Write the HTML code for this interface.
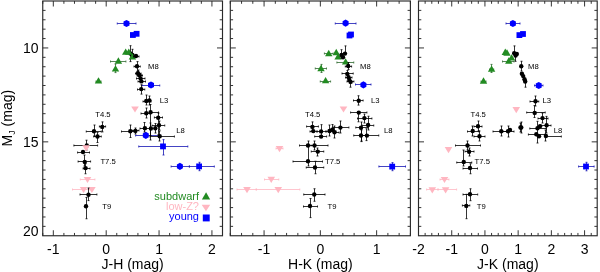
<!DOCTYPE html>
<html><head><meta charset="utf-8"><style>
html,body{margin:0;padding:0;background:#fff;}
svg{display:block;will-change:transform;}
text{font-family:"Liberation Sans",sans-serif;}
.tl{font-size:14px;}
.sub{font-size:9px;}
.sm{font-size:7.7px;fill:#000;}
.lg{font-size:11px;}
</style></head><body>
<svg width="600" height="272" viewBox="0 0 600 272">
<rect width="600" height="272" fill="#fff"/>
<rect x="42.75" y="1.00" width="179.75" height="234.75" fill="none" stroke="#2a2a2a" stroke-width="1.15"/>
<line x1="42.75" y1="235.75" x2="42.75" y2="232.95" stroke="#2a2a2a" stroke-width="0.95"/>
<line x1="42.75" y1="1.00" x2="42.75" y2="3.80" stroke="#2a2a2a" stroke-width="0.95"/>
<line x1="53.32" y1="235.75" x2="53.32" y2="230.25" stroke="#2a2a2a" stroke-width="0.95"/>
<line x1="53.32" y1="1.00" x2="53.32" y2="6.50" stroke="#2a2a2a" stroke-width="0.95"/>
<line x1="63.90" y1="235.75" x2="63.90" y2="232.95" stroke="#2a2a2a" stroke-width="0.95"/>
<line x1="63.90" y1="1.00" x2="63.90" y2="3.80" stroke="#2a2a2a" stroke-width="0.95"/>
<line x1="74.47" y1="235.75" x2="74.47" y2="232.95" stroke="#2a2a2a" stroke-width="0.95"/>
<line x1="74.47" y1="1.00" x2="74.47" y2="3.80" stroke="#2a2a2a" stroke-width="0.95"/>
<line x1="85.04" y1="235.75" x2="85.04" y2="232.95" stroke="#2a2a2a" stroke-width="0.95"/>
<line x1="85.04" y1="1.00" x2="85.04" y2="3.80" stroke="#2a2a2a" stroke-width="0.95"/>
<line x1="95.62" y1="235.75" x2="95.62" y2="232.95" stroke="#2a2a2a" stroke-width="0.95"/>
<line x1="95.62" y1="1.00" x2="95.62" y2="3.80" stroke="#2a2a2a" stroke-width="0.95"/>
<line x1="106.19" y1="235.75" x2="106.19" y2="230.25" stroke="#2a2a2a" stroke-width="0.95"/>
<line x1="106.19" y1="1.00" x2="106.19" y2="6.50" stroke="#2a2a2a" stroke-width="0.95"/>
<line x1="116.76" y1="235.75" x2="116.76" y2="232.95" stroke="#2a2a2a" stroke-width="0.95"/>
<line x1="116.76" y1="1.00" x2="116.76" y2="3.80" stroke="#2a2a2a" stroke-width="0.95"/>
<line x1="127.34" y1="235.75" x2="127.34" y2="232.95" stroke="#2a2a2a" stroke-width="0.95"/>
<line x1="127.34" y1="1.00" x2="127.34" y2="3.80" stroke="#2a2a2a" stroke-width="0.95"/>
<line x1="137.91" y1="235.75" x2="137.91" y2="232.95" stroke="#2a2a2a" stroke-width="0.95"/>
<line x1="137.91" y1="1.00" x2="137.91" y2="3.80" stroke="#2a2a2a" stroke-width="0.95"/>
<line x1="148.49" y1="235.75" x2="148.49" y2="232.95" stroke="#2a2a2a" stroke-width="0.95"/>
<line x1="148.49" y1="1.00" x2="148.49" y2="3.80" stroke="#2a2a2a" stroke-width="0.95"/>
<line x1="159.06" y1="235.75" x2="159.06" y2="230.25" stroke="#2a2a2a" stroke-width="0.95"/>
<line x1="159.06" y1="1.00" x2="159.06" y2="6.50" stroke="#2a2a2a" stroke-width="0.95"/>
<line x1="169.63" y1="235.75" x2="169.63" y2="232.95" stroke="#2a2a2a" stroke-width="0.95"/>
<line x1="169.63" y1="1.00" x2="169.63" y2="3.80" stroke="#2a2a2a" stroke-width="0.95"/>
<line x1="180.21" y1="235.75" x2="180.21" y2="232.95" stroke="#2a2a2a" stroke-width="0.95"/>
<line x1="180.21" y1="1.00" x2="180.21" y2="3.80" stroke="#2a2a2a" stroke-width="0.95"/>
<line x1="190.78" y1="235.75" x2="190.78" y2="232.95" stroke="#2a2a2a" stroke-width="0.95"/>
<line x1="190.78" y1="1.00" x2="190.78" y2="3.80" stroke="#2a2a2a" stroke-width="0.95"/>
<line x1="201.35" y1="235.75" x2="201.35" y2="232.95" stroke="#2a2a2a" stroke-width="0.95"/>
<line x1="201.35" y1="1.00" x2="201.35" y2="3.80" stroke="#2a2a2a" stroke-width="0.95"/>
<line x1="211.93" y1="235.75" x2="211.93" y2="230.25" stroke="#2a2a2a" stroke-width="0.95"/>
<line x1="211.93" y1="1.00" x2="211.93" y2="6.50" stroke="#2a2a2a" stroke-width="0.95"/>
<line x1="222.50" y1="235.75" x2="222.50" y2="232.95" stroke="#2a2a2a" stroke-width="0.95"/>
<line x1="222.50" y1="1.00" x2="222.50" y2="3.80" stroke="#2a2a2a" stroke-width="0.95"/>
<line x1="42.75" y1="10.39" x2="45.55" y2="10.39" stroke="#2a2a2a" stroke-width="0.95"/>
<line x1="222.50" y1="10.39" x2="219.70" y2="10.39" stroke="#2a2a2a" stroke-width="0.95"/>
<line x1="42.75" y1="19.78" x2="45.55" y2="19.78" stroke="#2a2a2a" stroke-width="0.95"/>
<line x1="222.50" y1="19.78" x2="219.70" y2="19.78" stroke="#2a2a2a" stroke-width="0.95"/>
<line x1="42.75" y1="29.17" x2="45.55" y2="29.17" stroke="#2a2a2a" stroke-width="0.95"/>
<line x1="222.50" y1="29.17" x2="219.70" y2="29.17" stroke="#2a2a2a" stroke-width="0.95"/>
<line x1="42.75" y1="38.56" x2="45.55" y2="38.56" stroke="#2a2a2a" stroke-width="0.95"/>
<line x1="222.50" y1="38.56" x2="219.70" y2="38.56" stroke="#2a2a2a" stroke-width="0.95"/>
<line x1="42.75" y1="47.95" x2="48.25" y2="47.95" stroke="#2a2a2a" stroke-width="0.95"/>
<line x1="222.50" y1="47.95" x2="217.00" y2="47.95" stroke="#2a2a2a" stroke-width="0.95"/>
<line x1="42.75" y1="57.34" x2="45.55" y2="57.34" stroke="#2a2a2a" stroke-width="0.95"/>
<line x1="222.50" y1="57.34" x2="219.70" y2="57.34" stroke="#2a2a2a" stroke-width="0.95"/>
<line x1="42.75" y1="66.73" x2="45.55" y2="66.73" stroke="#2a2a2a" stroke-width="0.95"/>
<line x1="222.50" y1="66.73" x2="219.70" y2="66.73" stroke="#2a2a2a" stroke-width="0.95"/>
<line x1="42.75" y1="76.12" x2="45.55" y2="76.12" stroke="#2a2a2a" stroke-width="0.95"/>
<line x1="222.50" y1="76.12" x2="219.70" y2="76.12" stroke="#2a2a2a" stroke-width="0.95"/>
<line x1="42.75" y1="85.51" x2="45.55" y2="85.51" stroke="#2a2a2a" stroke-width="0.95"/>
<line x1="222.50" y1="85.51" x2="219.70" y2="85.51" stroke="#2a2a2a" stroke-width="0.95"/>
<line x1="42.75" y1="94.90" x2="45.55" y2="94.90" stroke="#2a2a2a" stroke-width="0.95"/>
<line x1="222.50" y1="94.90" x2="219.70" y2="94.90" stroke="#2a2a2a" stroke-width="0.95"/>
<line x1="42.75" y1="104.29" x2="45.55" y2="104.29" stroke="#2a2a2a" stroke-width="0.95"/>
<line x1="222.50" y1="104.29" x2="219.70" y2="104.29" stroke="#2a2a2a" stroke-width="0.95"/>
<line x1="42.75" y1="113.68" x2="45.55" y2="113.68" stroke="#2a2a2a" stroke-width="0.95"/>
<line x1="222.50" y1="113.68" x2="219.70" y2="113.68" stroke="#2a2a2a" stroke-width="0.95"/>
<line x1="42.75" y1="123.07" x2="45.55" y2="123.07" stroke="#2a2a2a" stroke-width="0.95"/>
<line x1="222.50" y1="123.07" x2="219.70" y2="123.07" stroke="#2a2a2a" stroke-width="0.95"/>
<line x1="42.75" y1="132.46" x2="45.55" y2="132.46" stroke="#2a2a2a" stroke-width="0.95"/>
<line x1="222.50" y1="132.46" x2="219.70" y2="132.46" stroke="#2a2a2a" stroke-width="0.95"/>
<line x1="42.75" y1="141.85" x2="48.25" y2="141.85" stroke="#2a2a2a" stroke-width="0.95"/>
<line x1="222.50" y1="141.85" x2="217.00" y2="141.85" stroke="#2a2a2a" stroke-width="0.95"/>
<line x1="42.75" y1="151.24" x2="45.55" y2="151.24" stroke="#2a2a2a" stroke-width="0.95"/>
<line x1="222.50" y1="151.24" x2="219.70" y2="151.24" stroke="#2a2a2a" stroke-width="0.95"/>
<line x1="42.75" y1="160.63" x2="45.55" y2="160.63" stroke="#2a2a2a" stroke-width="0.95"/>
<line x1="222.50" y1="160.63" x2="219.70" y2="160.63" stroke="#2a2a2a" stroke-width="0.95"/>
<line x1="42.75" y1="170.02" x2="45.55" y2="170.02" stroke="#2a2a2a" stroke-width="0.95"/>
<line x1="222.50" y1="170.02" x2="219.70" y2="170.02" stroke="#2a2a2a" stroke-width="0.95"/>
<line x1="42.75" y1="179.41" x2="45.55" y2="179.41" stroke="#2a2a2a" stroke-width="0.95"/>
<line x1="222.50" y1="179.41" x2="219.70" y2="179.41" stroke="#2a2a2a" stroke-width="0.95"/>
<line x1="42.75" y1="188.80" x2="45.55" y2="188.80" stroke="#2a2a2a" stroke-width="0.95"/>
<line x1="222.50" y1="188.80" x2="219.70" y2="188.80" stroke="#2a2a2a" stroke-width="0.95"/>
<line x1="42.75" y1="198.19" x2="45.55" y2="198.19" stroke="#2a2a2a" stroke-width="0.95"/>
<line x1="222.50" y1="198.19" x2="219.70" y2="198.19" stroke="#2a2a2a" stroke-width="0.95"/>
<line x1="42.75" y1="207.58" x2="45.55" y2="207.58" stroke="#2a2a2a" stroke-width="0.95"/>
<line x1="222.50" y1="207.58" x2="219.70" y2="207.58" stroke="#2a2a2a" stroke-width="0.95"/>
<line x1="42.75" y1="216.97" x2="45.55" y2="216.97" stroke="#2a2a2a" stroke-width="0.95"/>
<line x1="222.50" y1="216.97" x2="219.70" y2="216.97" stroke="#2a2a2a" stroke-width="0.95"/>
<line x1="42.75" y1="226.36" x2="45.55" y2="226.36" stroke="#2a2a2a" stroke-width="0.95"/>
<line x1="222.50" y1="226.36" x2="219.70" y2="226.36" stroke="#2a2a2a" stroke-width="0.95"/>
<text x="53.32" y="253.6" class="tl" text-anchor="middle">-1</text>
<text x="106.19" y="253.6" class="tl" text-anchor="middle">0</text>
<text x="159.06" y="253.6" class="tl" text-anchor="middle">1</text>
<text x="211.93" y="253.6" class="tl" text-anchor="middle">2</text>
<text x="132.62" y="268.5" class="tl" text-anchor="middle">J-H (mag)</text>
<rect x="230.30" y="1.00" width="180.10" height="234.75" fill="none" stroke="#2a2a2a" stroke-width="1.15"/>
<line x1="230.30" y1="235.75" x2="230.30" y2="232.95" stroke="#2a2a2a" stroke-width="0.95"/>
<line x1="230.30" y1="1.00" x2="230.30" y2="3.80" stroke="#2a2a2a" stroke-width="0.95"/>
<line x1="241.56" y1="235.75" x2="241.56" y2="232.95" stroke="#2a2a2a" stroke-width="0.95"/>
<line x1="241.56" y1="1.00" x2="241.56" y2="3.80" stroke="#2a2a2a" stroke-width="0.95"/>
<line x1="252.81" y1="235.75" x2="252.81" y2="232.95" stroke="#2a2a2a" stroke-width="0.95"/>
<line x1="252.81" y1="1.00" x2="252.81" y2="3.80" stroke="#2a2a2a" stroke-width="0.95"/>
<line x1="264.07" y1="235.75" x2="264.07" y2="230.25" stroke="#2a2a2a" stroke-width="0.95"/>
<line x1="264.07" y1="1.00" x2="264.07" y2="6.50" stroke="#2a2a2a" stroke-width="0.95"/>
<line x1="275.32" y1="235.75" x2="275.32" y2="232.95" stroke="#2a2a2a" stroke-width="0.95"/>
<line x1="275.32" y1="1.00" x2="275.32" y2="3.80" stroke="#2a2a2a" stroke-width="0.95"/>
<line x1="286.58" y1="235.75" x2="286.58" y2="232.95" stroke="#2a2a2a" stroke-width="0.95"/>
<line x1="286.58" y1="1.00" x2="286.58" y2="3.80" stroke="#2a2a2a" stroke-width="0.95"/>
<line x1="297.84" y1="235.75" x2="297.84" y2="232.95" stroke="#2a2a2a" stroke-width="0.95"/>
<line x1="297.84" y1="1.00" x2="297.84" y2="3.80" stroke="#2a2a2a" stroke-width="0.95"/>
<line x1="309.09" y1="235.75" x2="309.09" y2="232.95" stroke="#2a2a2a" stroke-width="0.95"/>
<line x1="309.09" y1="1.00" x2="309.09" y2="3.80" stroke="#2a2a2a" stroke-width="0.95"/>
<line x1="320.35" y1="235.75" x2="320.35" y2="230.25" stroke="#2a2a2a" stroke-width="0.95"/>
<line x1="320.35" y1="1.00" x2="320.35" y2="6.50" stroke="#2a2a2a" stroke-width="0.95"/>
<line x1="331.61" y1="235.75" x2="331.61" y2="232.95" stroke="#2a2a2a" stroke-width="0.95"/>
<line x1="331.61" y1="1.00" x2="331.61" y2="3.80" stroke="#2a2a2a" stroke-width="0.95"/>
<line x1="342.86" y1="235.75" x2="342.86" y2="232.95" stroke="#2a2a2a" stroke-width="0.95"/>
<line x1="342.86" y1="1.00" x2="342.86" y2="3.80" stroke="#2a2a2a" stroke-width="0.95"/>
<line x1="354.12" y1="235.75" x2="354.12" y2="232.95" stroke="#2a2a2a" stroke-width="0.95"/>
<line x1="354.12" y1="1.00" x2="354.12" y2="3.80" stroke="#2a2a2a" stroke-width="0.95"/>
<line x1="365.38" y1="235.75" x2="365.38" y2="232.95" stroke="#2a2a2a" stroke-width="0.95"/>
<line x1="365.38" y1="1.00" x2="365.38" y2="3.80" stroke="#2a2a2a" stroke-width="0.95"/>
<line x1="376.63" y1="235.75" x2="376.63" y2="230.25" stroke="#2a2a2a" stroke-width="0.95"/>
<line x1="376.63" y1="1.00" x2="376.63" y2="6.50" stroke="#2a2a2a" stroke-width="0.95"/>
<line x1="387.89" y1="235.75" x2="387.89" y2="232.95" stroke="#2a2a2a" stroke-width="0.95"/>
<line x1="387.89" y1="1.00" x2="387.89" y2="3.80" stroke="#2a2a2a" stroke-width="0.95"/>
<line x1="399.14" y1="235.75" x2="399.14" y2="232.95" stroke="#2a2a2a" stroke-width="0.95"/>
<line x1="399.14" y1="1.00" x2="399.14" y2="3.80" stroke="#2a2a2a" stroke-width="0.95"/>
<line x1="410.40" y1="235.75" x2="410.40" y2="232.95" stroke="#2a2a2a" stroke-width="0.95"/>
<line x1="410.40" y1="1.00" x2="410.40" y2="3.80" stroke="#2a2a2a" stroke-width="0.95"/>
<line x1="230.30" y1="10.39" x2="233.10" y2="10.39" stroke="#2a2a2a" stroke-width="0.95"/>
<line x1="410.40" y1="10.39" x2="407.60" y2="10.39" stroke="#2a2a2a" stroke-width="0.95"/>
<line x1="230.30" y1="19.78" x2="233.10" y2="19.78" stroke="#2a2a2a" stroke-width="0.95"/>
<line x1="410.40" y1="19.78" x2="407.60" y2="19.78" stroke="#2a2a2a" stroke-width="0.95"/>
<line x1="230.30" y1="29.17" x2="233.10" y2="29.17" stroke="#2a2a2a" stroke-width="0.95"/>
<line x1="410.40" y1="29.17" x2="407.60" y2="29.17" stroke="#2a2a2a" stroke-width="0.95"/>
<line x1="230.30" y1="38.56" x2="233.10" y2="38.56" stroke="#2a2a2a" stroke-width="0.95"/>
<line x1="410.40" y1="38.56" x2="407.60" y2="38.56" stroke="#2a2a2a" stroke-width="0.95"/>
<line x1="230.30" y1="47.95" x2="235.80" y2="47.95" stroke="#2a2a2a" stroke-width="0.95"/>
<line x1="410.40" y1="47.95" x2="404.90" y2="47.95" stroke="#2a2a2a" stroke-width="0.95"/>
<line x1="230.30" y1="57.34" x2="233.10" y2="57.34" stroke="#2a2a2a" stroke-width="0.95"/>
<line x1="410.40" y1="57.34" x2="407.60" y2="57.34" stroke="#2a2a2a" stroke-width="0.95"/>
<line x1="230.30" y1="66.73" x2="233.10" y2="66.73" stroke="#2a2a2a" stroke-width="0.95"/>
<line x1="410.40" y1="66.73" x2="407.60" y2="66.73" stroke="#2a2a2a" stroke-width="0.95"/>
<line x1="230.30" y1="76.12" x2="233.10" y2="76.12" stroke="#2a2a2a" stroke-width="0.95"/>
<line x1="410.40" y1="76.12" x2="407.60" y2="76.12" stroke="#2a2a2a" stroke-width="0.95"/>
<line x1="230.30" y1="85.51" x2="233.10" y2="85.51" stroke="#2a2a2a" stroke-width="0.95"/>
<line x1="410.40" y1="85.51" x2="407.60" y2="85.51" stroke="#2a2a2a" stroke-width="0.95"/>
<line x1="230.30" y1="94.90" x2="233.10" y2="94.90" stroke="#2a2a2a" stroke-width="0.95"/>
<line x1="410.40" y1="94.90" x2="407.60" y2="94.90" stroke="#2a2a2a" stroke-width="0.95"/>
<line x1="230.30" y1="104.29" x2="233.10" y2="104.29" stroke="#2a2a2a" stroke-width="0.95"/>
<line x1="410.40" y1="104.29" x2="407.60" y2="104.29" stroke="#2a2a2a" stroke-width="0.95"/>
<line x1="230.30" y1="113.68" x2="233.10" y2="113.68" stroke="#2a2a2a" stroke-width="0.95"/>
<line x1="410.40" y1="113.68" x2="407.60" y2="113.68" stroke="#2a2a2a" stroke-width="0.95"/>
<line x1="230.30" y1="123.07" x2="233.10" y2="123.07" stroke="#2a2a2a" stroke-width="0.95"/>
<line x1="410.40" y1="123.07" x2="407.60" y2="123.07" stroke="#2a2a2a" stroke-width="0.95"/>
<line x1="230.30" y1="132.46" x2="233.10" y2="132.46" stroke="#2a2a2a" stroke-width="0.95"/>
<line x1="410.40" y1="132.46" x2="407.60" y2="132.46" stroke="#2a2a2a" stroke-width="0.95"/>
<line x1="230.30" y1="141.85" x2="235.80" y2="141.85" stroke="#2a2a2a" stroke-width="0.95"/>
<line x1="410.40" y1="141.85" x2="404.90" y2="141.85" stroke="#2a2a2a" stroke-width="0.95"/>
<line x1="230.30" y1="151.24" x2="233.10" y2="151.24" stroke="#2a2a2a" stroke-width="0.95"/>
<line x1="410.40" y1="151.24" x2="407.60" y2="151.24" stroke="#2a2a2a" stroke-width="0.95"/>
<line x1="230.30" y1="160.63" x2="233.10" y2="160.63" stroke="#2a2a2a" stroke-width="0.95"/>
<line x1="410.40" y1="160.63" x2="407.60" y2="160.63" stroke="#2a2a2a" stroke-width="0.95"/>
<line x1="230.30" y1="170.02" x2="233.10" y2="170.02" stroke="#2a2a2a" stroke-width="0.95"/>
<line x1="410.40" y1="170.02" x2="407.60" y2="170.02" stroke="#2a2a2a" stroke-width="0.95"/>
<line x1="230.30" y1="179.41" x2="233.10" y2="179.41" stroke="#2a2a2a" stroke-width="0.95"/>
<line x1="410.40" y1="179.41" x2="407.60" y2="179.41" stroke="#2a2a2a" stroke-width="0.95"/>
<line x1="230.30" y1="188.80" x2="233.10" y2="188.80" stroke="#2a2a2a" stroke-width="0.95"/>
<line x1="410.40" y1="188.80" x2="407.60" y2="188.80" stroke="#2a2a2a" stroke-width="0.95"/>
<line x1="230.30" y1="198.19" x2="233.10" y2="198.19" stroke="#2a2a2a" stroke-width="0.95"/>
<line x1="410.40" y1="198.19" x2="407.60" y2="198.19" stroke="#2a2a2a" stroke-width="0.95"/>
<line x1="230.30" y1="207.58" x2="233.10" y2="207.58" stroke="#2a2a2a" stroke-width="0.95"/>
<line x1="410.40" y1="207.58" x2="407.60" y2="207.58" stroke="#2a2a2a" stroke-width="0.95"/>
<line x1="230.30" y1="216.97" x2="233.10" y2="216.97" stroke="#2a2a2a" stroke-width="0.95"/>
<line x1="410.40" y1="216.97" x2="407.60" y2="216.97" stroke="#2a2a2a" stroke-width="0.95"/>
<line x1="230.30" y1="226.36" x2="233.10" y2="226.36" stroke="#2a2a2a" stroke-width="0.95"/>
<line x1="410.40" y1="226.36" x2="407.60" y2="226.36" stroke="#2a2a2a" stroke-width="0.95"/>
<text x="264.07" y="253.6" class="tl" text-anchor="middle">-1</text>
<text x="320.35" y="253.6" class="tl" text-anchor="middle">0</text>
<text x="376.63" y="253.6" class="tl" text-anchor="middle">1</text>
<text x="320.35" y="268.5" class="tl" text-anchor="middle">H-K (mag)</text>
<rect x="418.50" y="1.00" width="178.70" height="234.75" fill="none" stroke="#2a2a2a" stroke-width="1.15"/>
<line x1="418.50" y1="235.75" x2="418.50" y2="230.25" stroke="#2a2a2a" stroke-width="0.95"/>
<line x1="418.50" y1="1.00" x2="418.50" y2="6.50" stroke="#2a2a2a" stroke-width="0.95"/>
<line x1="425.14" y1="235.75" x2="425.14" y2="232.95" stroke="#2a2a2a" stroke-width="0.95"/>
<line x1="425.14" y1="1.00" x2="425.14" y2="3.80" stroke="#2a2a2a" stroke-width="0.95"/>
<line x1="431.79" y1="235.75" x2="431.79" y2="232.95" stroke="#2a2a2a" stroke-width="0.95"/>
<line x1="431.79" y1="1.00" x2="431.79" y2="3.80" stroke="#2a2a2a" stroke-width="0.95"/>
<line x1="438.43" y1="235.75" x2="438.43" y2="232.95" stroke="#2a2a2a" stroke-width="0.95"/>
<line x1="438.43" y1="1.00" x2="438.43" y2="3.80" stroke="#2a2a2a" stroke-width="0.95"/>
<line x1="445.07" y1="235.75" x2="445.07" y2="232.95" stroke="#2a2a2a" stroke-width="0.95"/>
<line x1="445.07" y1="1.00" x2="445.07" y2="3.80" stroke="#2a2a2a" stroke-width="0.95"/>
<line x1="451.72" y1="235.75" x2="451.72" y2="230.25" stroke="#2a2a2a" stroke-width="0.95"/>
<line x1="451.72" y1="1.00" x2="451.72" y2="6.50" stroke="#2a2a2a" stroke-width="0.95"/>
<line x1="458.36" y1="235.75" x2="458.36" y2="232.95" stroke="#2a2a2a" stroke-width="0.95"/>
<line x1="458.36" y1="1.00" x2="458.36" y2="3.80" stroke="#2a2a2a" stroke-width="0.95"/>
<line x1="465.00" y1="235.75" x2="465.00" y2="232.95" stroke="#2a2a2a" stroke-width="0.95"/>
<line x1="465.00" y1="1.00" x2="465.00" y2="3.80" stroke="#2a2a2a" stroke-width="0.95"/>
<line x1="471.64" y1="235.75" x2="471.64" y2="232.95" stroke="#2a2a2a" stroke-width="0.95"/>
<line x1="471.64" y1="1.00" x2="471.64" y2="3.80" stroke="#2a2a2a" stroke-width="0.95"/>
<line x1="478.29" y1="235.75" x2="478.29" y2="232.95" stroke="#2a2a2a" stroke-width="0.95"/>
<line x1="478.29" y1="1.00" x2="478.29" y2="3.80" stroke="#2a2a2a" stroke-width="0.95"/>
<line x1="484.93" y1="235.75" x2="484.93" y2="230.25" stroke="#2a2a2a" stroke-width="0.95"/>
<line x1="484.93" y1="1.00" x2="484.93" y2="6.50" stroke="#2a2a2a" stroke-width="0.95"/>
<line x1="491.57" y1="235.75" x2="491.57" y2="232.95" stroke="#2a2a2a" stroke-width="0.95"/>
<line x1="491.57" y1="1.00" x2="491.57" y2="3.80" stroke="#2a2a2a" stroke-width="0.95"/>
<line x1="498.22" y1="235.75" x2="498.22" y2="232.95" stroke="#2a2a2a" stroke-width="0.95"/>
<line x1="498.22" y1="1.00" x2="498.22" y2="3.80" stroke="#2a2a2a" stroke-width="0.95"/>
<line x1="504.86" y1="235.75" x2="504.86" y2="232.95" stroke="#2a2a2a" stroke-width="0.95"/>
<line x1="504.86" y1="1.00" x2="504.86" y2="3.80" stroke="#2a2a2a" stroke-width="0.95"/>
<line x1="511.50" y1="235.75" x2="511.50" y2="232.95" stroke="#2a2a2a" stroke-width="0.95"/>
<line x1="511.50" y1="1.00" x2="511.50" y2="3.80" stroke="#2a2a2a" stroke-width="0.95"/>
<line x1="518.15" y1="235.75" x2="518.15" y2="230.25" stroke="#2a2a2a" stroke-width="0.95"/>
<line x1="518.15" y1="1.00" x2="518.15" y2="6.50" stroke="#2a2a2a" stroke-width="0.95"/>
<line x1="524.79" y1="235.75" x2="524.79" y2="232.95" stroke="#2a2a2a" stroke-width="0.95"/>
<line x1="524.79" y1="1.00" x2="524.79" y2="3.80" stroke="#2a2a2a" stroke-width="0.95"/>
<line x1="531.43" y1="235.75" x2="531.43" y2="232.95" stroke="#2a2a2a" stroke-width="0.95"/>
<line x1="531.43" y1="1.00" x2="531.43" y2="3.80" stroke="#2a2a2a" stroke-width="0.95"/>
<line x1="538.08" y1="235.75" x2="538.08" y2="232.95" stroke="#2a2a2a" stroke-width="0.95"/>
<line x1="538.08" y1="1.00" x2="538.08" y2="3.80" stroke="#2a2a2a" stroke-width="0.95"/>
<line x1="544.72" y1="235.75" x2="544.72" y2="232.95" stroke="#2a2a2a" stroke-width="0.95"/>
<line x1="544.72" y1="1.00" x2="544.72" y2="3.80" stroke="#2a2a2a" stroke-width="0.95"/>
<line x1="551.36" y1="235.75" x2="551.36" y2="230.25" stroke="#2a2a2a" stroke-width="0.95"/>
<line x1="551.36" y1="1.00" x2="551.36" y2="6.50" stroke="#2a2a2a" stroke-width="0.95"/>
<line x1="558.01" y1="235.75" x2="558.01" y2="232.95" stroke="#2a2a2a" stroke-width="0.95"/>
<line x1="558.01" y1="1.00" x2="558.01" y2="3.80" stroke="#2a2a2a" stroke-width="0.95"/>
<line x1="564.65" y1="235.75" x2="564.65" y2="232.95" stroke="#2a2a2a" stroke-width="0.95"/>
<line x1="564.65" y1="1.00" x2="564.65" y2="3.80" stroke="#2a2a2a" stroke-width="0.95"/>
<line x1="571.29" y1="235.75" x2="571.29" y2="232.95" stroke="#2a2a2a" stroke-width="0.95"/>
<line x1="571.29" y1="1.00" x2="571.29" y2="3.80" stroke="#2a2a2a" stroke-width="0.95"/>
<line x1="577.93" y1="235.75" x2="577.93" y2="232.95" stroke="#2a2a2a" stroke-width="0.95"/>
<line x1="577.93" y1="1.00" x2="577.93" y2="3.80" stroke="#2a2a2a" stroke-width="0.95"/>
<line x1="584.58" y1="235.75" x2="584.58" y2="230.25" stroke="#2a2a2a" stroke-width="0.95"/>
<line x1="584.58" y1="1.00" x2="584.58" y2="6.50" stroke="#2a2a2a" stroke-width="0.95"/>
<line x1="591.22" y1="235.75" x2="591.22" y2="232.95" stroke="#2a2a2a" stroke-width="0.95"/>
<line x1="591.22" y1="1.00" x2="591.22" y2="3.80" stroke="#2a2a2a" stroke-width="0.95"/>
<line x1="418.50" y1="10.39" x2="421.30" y2="10.39" stroke="#2a2a2a" stroke-width="0.95"/>
<line x1="597.20" y1="10.39" x2="594.40" y2="10.39" stroke="#2a2a2a" stroke-width="0.95"/>
<line x1="418.50" y1="19.78" x2="421.30" y2="19.78" stroke="#2a2a2a" stroke-width="0.95"/>
<line x1="597.20" y1="19.78" x2="594.40" y2="19.78" stroke="#2a2a2a" stroke-width="0.95"/>
<line x1="418.50" y1="29.17" x2="421.30" y2="29.17" stroke="#2a2a2a" stroke-width="0.95"/>
<line x1="597.20" y1="29.17" x2="594.40" y2="29.17" stroke="#2a2a2a" stroke-width="0.95"/>
<line x1="418.50" y1="38.56" x2="421.30" y2="38.56" stroke="#2a2a2a" stroke-width="0.95"/>
<line x1="597.20" y1="38.56" x2="594.40" y2="38.56" stroke="#2a2a2a" stroke-width="0.95"/>
<line x1="418.50" y1="47.95" x2="424.00" y2="47.95" stroke="#2a2a2a" stroke-width="0.95"/>
<line x1="597.20" y1="47.95" x2="591.70" y2="47.95" stroke="#2a2a2a" stroke-width="0.95"/>
<line x1="418.50" y1="57.34" x2="421.30" y2="57.34" stroke="#2a2a2a" stroke-width="0.95"/>
<line x1="597.20" y1="57.34" x2="594.40" y2="57.34" stroke="#2a2a2a" stroke-width="0.95"/>
<line x1="418.50" y1="66.73" x2="421.30" y2="66.73" stroke="#2a2a2a" stroke-width="0.95"/>
<line x1="597.20" y1="66.73" x2="594.40" y2="66.73" stroke="#2a2a2a" stroke-width="0.95"/>
<line x1="418.50" y1="76.12" x2="421.30" y2="76.12" stroke="#2a2a2a" stroke-width="0.95"/>
<line x1="597.20" y1="76.12" x2="594.40" y2="76.12" stroke="#2a2a2a" stroke-width="0.95"/>
<line x1="418.50" y1="85.51" x2="421.30" y2="85.51" stroke="#2a2a2a" stroke-width="0.95"/>
<line x1="597.20" y1="85.51" x2="594.40" y2="85.51" stroke="#2a2a2a" stroke-width="0.95"/>
<line x1="418.50" y1="94.90" x2="421.30" y2="94.90" stroke="#2a2a2a" stroke-width="0.95"/>
<line x1="597.20" y1="94.90" x2="594.40" y2="94.90" stroke="#2a2a2a" stroke-width="0.95"/>
<line x1="418.50" y1="104.29" x2="421.30" y2="104.29" stroke="#2a2a2a" stroke-width="0.95"/>
<line x1="597.20" y1="104.29" x2="594.40" y2="104.29" stroke="#2a2a2a" stroke-width="0.95"/>
<line x1="418.50" y1="113.68" x2="421.30" y2="113.68" stroke="#2a2a2a" stroke-width="0.95"/>
<line x1="597.20" y1="113.68" x2="594.40" y2="113.68" stroke="#2a2a2a" stroke-width="0.95"/>
<line x1="418.50" y1="123.07" x2="421.30" y2="123.07" stroke="#2a2a2a" stroke-width="0.95"/>
<line x1="597.20" y1="123.07" x2="594.40" y2="123.07" stroke="#2a2a2a" stroke-width="0.95"/>
<line x1="418.50" y1="132.46" x2="421.30" y2="132.46" stroke="#2a2a2a" stroke-width="0.95"/>
<line x1="597.20" y1="132.46" x2="594.40" y2="132.46" stroke="#2a2a2a" stroke-width="0.95"/>
<line x1="418.50" y1="141.85" x2="424.00" y2="141.85" stroke="#2a2a2a" stroke-width="0.95"/>
<line x1="597.20" y1="141.85" x2="591.70" y2="141.85" stroke="#2a2a2a" stroke-width="0.95"/>
<line x1="418.50" y1="151.24" x2="421.30" y2="151.24" stroke="#2a2a2a" stroke-width="0.95"/>
<line x1="597.20" y1="151.24" x2="594.40" y2="151.24" stroke="#2a2a2a" stroke-width="0.95"/>
<line x1="418.50" y1="160.63" x2="421.30" y2="160.63" stroke="#2a2a2a" stroke-width="0.95"/>
<line x1="597.20" y1="160.63" x2="594.40" y2="160.63" stroke="#2a2a2a" stroke-width="0.95"/>
<line x1="418.50" y1="170.02" x2="421.30" y2="170.02" stroke="#2a2a2a" stroke-width="0.95"/>
<line x1="597.20" y1="170.02" x2="594.40" y2="170.02" stroke="#2a2a2a" stroke-width="0.95"/>
<line x1="418.50" y1="179.41" x2="421.30" y2="179.41" stroke="#2a2a2a" stroke-width="0.95"/>
<line x1="597.20" y1="179.41" x2="594.40" y2="179.41" stroke="#2a2a2a" stroke-width="0.95"/>
<line x1="418.50" y1="188.80" x2="421.30" y2="188.80" stroke="#2a2a2a" stroke-width="0.95"/>
<line x1="597.20" y1="188.80" x2="594.40" y2="188.80" stroke="#2a2a2a" stroke-width="0.95"/>
<line x1="418.50" y1="198.19" x2="421.30" y2="198.19" stroke="#2a2a2a" stroke-width="0.95"/>
<line x1="597.20" y1="198.19" x2="594.40" y2="198.19" stroke="#2a2a2a" stroke-width="0.95"/>
<line x1="418.50" y1="207.58" x2="421.30" y2="207.58" stroke="#2a2a2a" stroke-width="0.95"/>
<line x1="597.20" y1="207.58" x2="594.40" y2="207.58" stroke="#2a2a2a" stroke-width="0.95"/>
<line x1="418.50" y1="216.97" x2="421.30" y2="216.97" stroke="#2a2a2a" stroke-width="0.95"/>
<line x1="597.20" y1="216.97" x2="594.40" y2="216.97" stroke="#2a2a2a" stroke-width="0.95"/>
<line x1="418.50" y1="226.36" x2="421.30" y2="226.36" stroke="#2a2a2a" stroke-width="0.95"/>
<line x1="597.20" y1="226.36" x2="594.40" y2="226.36" stroke="#2a2a2a" stroke-width="0.95"/>
<text x="418.50" y="253.6" class="tl" text-anchor="middle">-2</text>
<text x="451.72" y="253.6" class="tl" text-anchor="middle">-1</text>
<text x="484.93" y="253.6" class="tl" text-anchor="middle">0</text>
<text x="518.15" y="253.6" class="tl" text-anchor="middle">1</text>
<text x="551.36" y="253.6" class="tl" text-anchor="middle">2</text>
<text x="584.58" y="253.6" class="tl" text-anchor="middle">3</text>
<text x="507.85" y="268.5" class="tl" text-anchor="middle">J-K (mag)</text>
<text x="38.6" y="52.5" class="tl" text-anchor="end">10</text>
<text x="38.6" y="146.5" class="tl" text-anchor="end">15</text>
<text x="38.6" y="235.5" class="tl" text-anchor="end">20</text>
<text transform="translate(12.2,146.5) rotate(-90)" class="tl">M<tspan class="sub" dy="3">J</tspan><tspan dy="-3"> (mag)</tspan></text>
<line x1="117.25" y1="23.50" x2="126.50" y2="23.50" stroke="#1414b4" stroke-width="0.8"/>
<line x1="117.25" y1="22.50" x2="117.25" y2="24.50" stroke="#1414b4" stroke-width="0.8"/>
<line x1="126.50" y1="23.50" x2="136.00" y2="23.50" stroke="#1414b4" stroke-width="0.8"/>
<line x1="136.00" y1="22.50" x2="136.00" y2="24.50" stroke="#1414b4" stroke-width="0.8"/>
<polygon points="126.50,19.90 129.50,21.60 129.50,25.40 126.50,27.10 123.50,25.40 123.50,21.60" fill="#0000ff"/>
<rect x="130.00" y="32.10" width="5.8" height="5.8" fill="#0000ff"/>
<rect x="133.70" y="30.90" width="5.8" height="5.8" fill="#0000ff"/>
<line x1="141.90" y1="85.50" x2="151.00" y2="85.50" stroke="#1414b4" stroke-width="0.8"/>
<line x1="141.90" y1="84.50" x2="141.90" y2="86.50" stroke="#1414b4" stroke-width="0.8"/>
<line x1="151.00" y1="85.50" x2="159.75" y2="85.50" stroke="#1414b4" stroke-width="0.8"/>
<line x1="159.75" y1="84.50" x2="159.75" y2="86.50" stroke="#1414b4" stroke-width="0.8"/>
<polygon points="151.00,81.40 154.00,83.10 154.00,86.90 151.00,88.60 148.00,86.90 148.00,83.10" fill="#0000ff"/>
<line x1="138.75" y1="146.50" x2="163.00" y2="146.50" stroke="#1414b4" stroke-width="0.8"/>
<line x1="138.75" y1="145.50" x2="138.75" y2="147.50" stroke="#1414b4" stroke-width="0.8"/>
<line x1="163.00" y1="146.50" x2="187.80" y2="146.50" stroke="#1414b4" stroke-width="0.8"/>
<line x1="187.80" y1="145.50" x2="187.80" y2="147.50" stroke="#1414b4" stroke-width="0.8"/>
<line x1="163.50" y1="139.60" x2="163.50" y2="146.40" stroke="#1414b4" stroke-width="0.8"/>
<line x1="162.50" y1="139.60" x2="164.50" y2="139.60" stroke="#1414b4" stroke-width="0.8"/>
<line x1="163.50" y1="146.40" x2="163.50" y2="155.00" stroke="#1414b4" stroke-width="0.8"/>
<line x1="162.50" y1="155.00" x2="164.50" y2="155.00" stroke="#1414b4" stroke-width="0.8"/>
<rect x="160.10" y="143.50" width="5.8" height="5.8" fill="#0000ff"/>
<line x1="135.60" y1="135.50" x2="145.80" y2="135.50" stroke="#1414b4" stroke-width="0.8"/>
<line x1="135.60" y1="134.50" x2="135.60" y2="136.50" stroke="#1414b4" stroke-width="0.8"/>
<line x1="145.80" y1="135.50" x2="160.00" y2="135.50" stroke="#1414b4" stroke-width="0.8"/>
<line x1="160.00" y1="134.50" x2="160.00" y2="136.50" stroke="#1414b4" stroke-width="0.8"/>
<polygon points="145.80,131.80 148.80,133.50 148.80,137.30 145.80,139.00 142.80,137.30 142.80,133.50" fill="#0000ff"/>
<line x1="171.10" y1="166.50" x2="179.90" y2="166.50" stroke="#1414b4" stroke-width="0.8"/>
<line x1="171.10" y1="165.50" x2="171.10" y2="167.50" stroke="#1414b4" stroke-width="0.8"/>
<line x1="179.90" y1="166.50" x2="189.40" y2="166.50" stroke="#1414b4" stroke-width="0.8"/>
<line x1="189.40" y1="165.50" x2="189.40" y2="167.50" stroke="#1414b4" stroke-width="0.8"/>
<polygon points="179.90,162.80 182.90,164.50 182.90,168.30 179.90,170.00 176.90,168.30 176.90,164.50" fill="#0000ff"/>
<line x1="189.40" y1="166.50" x2="199.10" y2="166.50" stroke="#1414b4" stroke-width="0.8"/>
<line x1="189.40" y1="165.50" x2="189.40" y2="167.50" stroke="#1414b4" stroke-width="0.8"/>
<line x1="199.10" y1="166.50" x2="214.30" y2="166.50" stroke="#1414b4" stroke-width="0.8"/>
<line x1="214.30" y1="165.50" x2="214.30" y2="167.50" stroke="#1414b4" stroke-width="0.8"/>
<line x1="199.50" y1="162.30" x2="199.50" y2="166.40" stroke="#1414b4" stroke-width="0.8"/>
<line x1="198.50" y1="162.30" x2="200.50" y2="162.30" stroke="#1414b4" stroke-width="0.8"/>
<line x1="199.50" y1="166.40" x2="199.50" y2="170.70" stroke="#1414b4" stroke-width="0.8"/>
<line x1="198.50" y1="170.70" x2="200.50" y2="170.70" stroke="#1414b4" stroke-width="0.8"/>
<rect x="196.20" y="163.50" width="5.8" height="5.8" fill="#0000ff"/>
<line x1="130.50" y1="45.70" x2="130.50" y2="53.50" stroke="#000" stroke-width="0.8"/>
<line x1="129.50" y1="45.70" x2="131.50" y2="45.70" stroke="#000" stroke-width="0.8"/>
<line x1="130.50" y1="53.50" x2="130.50" y2="61.60" stroke="#000" stroke-width="0.8"/>
<line x1="129.50" y1="61.60" x2="131.50" y2="61.60" stroke="#000" stroke-width="0.8"/>
<circle cx="130.40" cy="53.50" r="2.2" fill="#000"/>
<line x1="132.50" y1="49.30" x2="132.50" y2="55.00" stroke="#000" stroke-width="0.8"/>
<line x1="131.50" y1="49.30" x2="133.50" y2="49.30" stroke="#000" stroke-width="0.8"/>
<circle cx="132.40" cy="55.00" r="2.2" fill="#000"/>
<polygon points="122.00,54.84 129.40,54.84 125.70,48.44" fill="#228b22"/>
<polygon points="125.10,54.84 132.50,54.84 128.80,48.44" fill="#228b22"/>
<polygon points="128.70,59.54 136.10,59.54 132.40,53.14" fill="#228b22"/>
<line x1="110.50" y1="61.50" x2="118.40" y2="61.50" stroke="#2f6a2f" stroke-width="0.8"/>
<line x1="110.50" y1="60.50" x2="110.50" y2="62.50" stroke="#2f6a2f" stroke-width="0.8"/>
<line x1="118.40" y1="61.50" x2="125.90" y2="61.50" stroke="#2f6a2f" stroke-width="0.8"/>
<line x1="125.90" y1="60.50" x2="125.90" y2="62.50" stroke="#2f6a2f" stroke-width="0.8"/>
<polygon points="114.70,63.64 122.10,63.64 118.40,57.24" fill="#228b22"/>
<line x1="115.50" y1="64.00" x2="115.50" y2="68.50" stroke="#2f6a2f" stroke-width="0.8"/>
<line x1="114.50" y1="64.00" x2="116.50" y2="64.00" stroke="#2f6a2f" stroke-width="0.8"/>
<line x1="115.50" y1="68.50" x2="115.50" y2="72.60" stroke="#2f6a2f" stroke-width="0.8"/>
<line x1="114.50" y1="72.60" x2="116.50" y2="72.60" stroke="#2f6a2f" stroke-width="0.8"/>
<polygon points="111.80,71.54 119.20,71.54 115.50,65.14" fill="#228b22"/>
<line x1="96.00" y1="81.50" x2="98.50" y2="81.50" stroke="#2f6a2f" stroke-width="0.8"/>
<line x1="96.00" y1="80.50" x2="96.00" y2="82.50" stroke="#2f6a2f" stroke-width="0.8"/>
<line x1="98.50" y1="81.50" x2="101.00" y2="81.50" stroke="#2f6a2f" stroke-width="0.8"/>
<line x1="101.00" y1="80.50" x2="101.00" y2="82.50" stroke="#2f6a2f" stroke-width="0.8"/>
<polygon points="94.80,83.54 102.20,83.54 98.50,77.14" fill="#228b22"/>
<polygon points="131.20,106.40 138.80,106.40 135.00,112.60" fill="#ffb6c1"/>
<line x1="80.30" y1="179.50" x2="87.50" y2="179.50" stroke="#ffb6c1" stroke-width="0.8"/>
<line x1="80.30" y1="178.50" x2="80.30" y2="180.50" stroke="#ffb6c1" stroke-width="0.8"/>
<line x1="87.50" y1="179.50" x2="94.90" y2="179.50" stroke="#ffb6c1" stroke-width="0.8"/>
<line x1="94.90" y1="178.50" x2="94.90" y2="180.50" stroke="#ffb6c1" stroke-width="0.8"/>
<polygon points="83.70,176.90 91.30,176.90 87.50,183.10" fill="#ffb6c1"/>
<line x1="72.50" y1="189.50" x2="83.60" y2="189.50" stroke="#ffb6c1" stroke-width="0.8"/>
<line x1="72.50" y1="188.50" x2="72.50" y2="190.50" stroke="#ffb6c1" stroke-width="0.8"/>
<line x1="83.60" y1="189.50" x2="90.00" y2="189.50" stroke="#ffb6c1" stroke-width="0.8"/>
<line x1="90.00" y1="188.50" x2="90.00" y2="190.50" stroke="#ffb6c1" stroke-width="0.8"/>
<polygon points="79.80,186.90 87.40,186.90 83.60,193.10" fill="#ffb6c1"/>
<polygon points="88.10,186.90 95.70,186.90 91.90,193.10" fill="#ffb6c1"/>
<line x1="133.50" y1="56.50" x2="136.00" y2="56.50" stroke="#000" stroke-width="0.8"/>
<line x1="133.50" y1="55.50" x2="133.50" y2="57.50" stroke="#000" stroke-width="0.8"/>
<line x1="136.00" y1="56.50" x2="139.00" y2="56.50" stroke="#000" stroke-width="0.8"/>
<line x1="139.00" y1="55.50" x2="139.00" y2="57.50" stroke="#000" stroke-width="0.8"/>
<circle cx="136.00" cy="56.00" r="2.2" fill="#000"/>
<line x1="134.00" y1="66.50" x2="137.00" y2="66.50" stroke="#000" stroke-width="0.8"/>
<line x1="134.00" y1="65.50" x2="134.00" y2="67.50" stroke="#000" stroke-width="0.8"/>
<line x1="137.00" y1="66.50" x2="140.25" y2="66.50" stroke="#000" stroke-width="0.8"/>
<line x1="140.25" y1="65.50" x2="140.25" y2="67.50" stroke="#000" stroke-width="0.8"/>
<line x1="137.50" y1="61.60" x2="137.50" y2="66.20" stroke="#000" stroke-width="0.8"/>
<line x1="136.50" y1="61.60" x2="138.50" y2="61.60" stroke="#000" stroke-width="0.8"/>
<line x1="137.50" y1="66.20" x2="137.50" y2="71.25" stroke="#000" stroke-width="0.8"/>
<line x1="136.50" y1="71.25" x2="138.50" y2="71.25" stroke="#000" stroke-width="0.8"/>
<circle cx="137.00" cy="66.20" r="2.2" fill="#000"/>
<line x1="135.50" y1="73.50" x2="138.00" y2="73.50" stroke="#000" stroke-width="0.8"/>
<line x1="135.50" y1="72.50" x2="135.50" y2="74.50" stroke="#000" stroke-width="0.8"/>
<line x1="138.00" y1="73.50" x2="141.00" y2="73.50" stroke="#000" stroke-width="0.8"/>
<line x1="141.00" y1="72.50" x2="141.00" y2="74.50" stroke="#000" stroke-width="0.8"/>
<line x1="138.50" y1="70.00" x2="138.50" y2="73.30" stroke="#000" stroke-width="0.8"/>
<line x1="137.50" y1="70.00" x2="139.50" y2="70.00" stroke="#000" stroke-width="0.8"/>
<line x1="138.50" y1="73.30" x2="138.50" y2="76.50" stroke="#000" stroke-width="0.8"/>
<line x1="137.50" y1="76.50" x2="139.50" y2="76.50" stroke="#000" stroke-width="0.8"/>
<circle cx="138.00" cy="73.30" r="2.2" fill="#000"/>
<line x1="137.00" y1="75.50" x2="139.70" y2="75.50" stroke="#000" stroke-width="0.8"/>
<line x1="137.00" y1="74.50" x2="137.00" y2="76.50" stroke="#000" stroke-width="0.8"/>
<line x1="139.70" y1="75.50" x2="142.50" y2="75.50" stroke="#000" stroke-width="0.8"/>
<line x1="142.50" y1="74.50" x2="142.50" y2="76.50" stroke="#000" stroke-width="0.8"/>
<circle cx="139.70" cy="75.50" r="2.2" fill="#000"/>
<line x1="136.50" y1="78.50" x2="140.60" y2="78.50" stroke="#000" stroke-width="0.8"/>
<line x1="136.50" y1="77.50" x2="136.50" y2="79.50" stroke="#000" stroke-width="0.8"/>
<line x1="140.60" y1="78.50" x2="145.00" y2="78.50" stroke="#000" stroke-width="0.8"/>
<line x1="145.00" y1="77.50" x2="145.00" y2="79.50" stroke="#000" stroke-width="0.8"/>
<line x1="140.50" y1="75.50" x2="140.50" y2="78.60" stroke="#000" stroke-width="0.8"/>
<line x1="139.50" y1="75.50" x2="141.50" y2="75.50" stroke="#000" stroke-width="0.8"/>
<line x1="140.50" y1="78.60" x2="140.50" y2="82.00" stroke="#000" stroke-width="0.8"/>
<line x1="139.50" y1="82.00" x2="141.50" y2="82.00" stroke="#000" stroke-width="0.8"/>
<circle cx="140.60" cy="78.60" r="2.2" fill="#000"/>
<line x1="138.00" y1="81.50" x2="141.40" y2="81.50" stroke="#000" stroke-width="0.8"/>
<line x1="138.00" y1="80.50" x2="138.00" y2="82.50" stroke="#000" stroke-width="0.8"/>
<line x1="141.40" y1="81.50" x2="145.50" y2="81.50" stroke="#000" stroke-width="0.8"/>
<line x1="145.50" y1="80.50" x2="145.50" y2="82.50" stroke="#000" stroke-width="0.8"/>
<circle cx="141.40" cy="81.40" r="2.2" fill="#000"/>
<line x1="137.50" y1="89.50" x2="141.25" y2="89.50" stroke="#000" stroke-width="0.8"/>
<line x1="137.50" y1="88.50" x2="137.50" y2="90.50" stroke="#000" stroke-width="0.8"/>
<line x1="141.25" y1="89.50" x2="144.75" y2="89.50" stroke="#000" stroke-width="0.8"/>
<line x1="144.75" y1="88.50" x2="144.75" y2="90.50" stroke="#000" stroke-width="0.8"/>
<line x1="141.50" y1="84.75" x2="141.50" y2="89.10" stroke="#000" stroke-width="0.8"/>
<line x1="140.50" y1="84.75" x2="142.50" y2="84.75" stroke="#000" stroke-width="0.8"/>
<line x1="141.50" y1="89.10" x2="141.50" y2="94.10" stroke="#000" stroke-width="0.8"/>
<line x1="140.50" y1="94.10" x2="142.50" y2="94.10" stroke="#000" stroke-width="0.8"/>
<circle cx="141.25" cy="89.10" r="2.2" fill="#000"/>
<line x1="143.00" y1="101.50" x2="146.25" y2="101.50" stroke="#000" stroke-width="0.8"/>
<line x1="143.00" y1="100.50" x2="143.00" y2="102.50" stroke="#000" stroke-width="0.8"/>
<line x1="146.25" y1="101.50" x2="151.00" y2="101.50" stroke="#000" stroke-width="0.8"/>
<line x1="151.00" y1="100.50" x2="151.00" y2="102.50" stroke="#000" stroke-width="0.8"/>
<line x1="146.50" y1="95.00" x2="146.50" y2="101.00" stroke="#000" stroke-width="0.8"/>
<line x1="145.50" y1="95.00" x2="147.50" y2="95.00" stroke="#000" stroke-width="0.8"/>
<line x1="146.50" y1="101.00" x2="146.50" y2="105.00" stroke="#000" stroke-width="0.8"/>
<line x1="145.50" y1="105.00" x2="147.50" y2="105.00" stroke="#000" stroke-width="0.8"/>
<circle cx="146.25" cy="101.00" r="2.2" fill="#000"/>
<line x1="149.50" y1="96.00" x2="149.50" y2="100.50" stroke="#000" stroke-width="0.8"/>
<line x1="148.50" y1="96.00" x2="150.50" y2="96.00" stroke="#000" stroke-width="0.8"/>
<line x1="149.50" y1="100.50" x2="149.50" y2="105.00" stroke="#000" stroke-width="0.8"/>
<line x1="148.50" y1="105.00" x2="150.50" y2="105.00" stroke="#000" stroke-width="0.8"/>
<circle cx="149.40" cy="100.50" r="2.2" fill="#000"/>
<line x1="141.00" y1="113.50" x2="146.25" y2="113.50" stroke="#000" stroke-width="0.8"/>
<line x1="141.00" y1="112.50" x2="141.00" y2="114.50" stroke="#000" stroke-width="0.8"/>
<line x1="146.25" y1="113.50" x2="150.00" y2="113.50" stroke="#000" stroke-width="0.8"/>
<line x1="150.00" y1="112.50" x2="150.00" y2="114.50" stroke="#000" stroke-width="0.8"/>
<line x1="146.50" y1="108.00" x2="146.50" y2="113.25" stroke="#000" stroke-width="0.8"/>
<line x1="145.50" y1="108.00" x2="147.50" y2="108.00" stroke="#000" stroke-width="0.8"/>
<line x1="146.50" y1="113.25" x2="146.50" y2="118.00" stroke="#000" stroke-width="0.8"/>
<line x1="145.50" y1="118.00" x2="147.50" y2="118.00" stroke="#000" stroke-width="0.8"/>
<circle cx="146.25" cy="113.25" r="2.2" fill="#000"/>
<line x1="150.60" y1="112.50" x2="158.50" y2="112.50" stroke="#000" stroke-width="0.8"/>
<line x1="158.50" y1="111.50" x2="158.50" y2="113.50" stroke="#000" stroke-width="0.8"/>
<line x1="150.50" y1="104.50" x2="150.50" y2="112.25" stroke="#000" stroke-width="0.8"/>
<line x1="149.50" y1="104.50" x2="151.50" y2="104.50" stroke="#000" stroke-width="0.8"/>
<line x1="150.50" y1="112.25" x2="150.50" y2="140.00" stroke="#000" stroke-width="0.8"/>
<line x1="149.50" y1="140.00" x2="151.50" y2="140.00" stroke="#000" stroke-width="0.8"/>
<circle cx="150.60" cy="112.25" r="2.2" fill="#000"/>
<line x1="154.40" y1="117.50" x2="158.20" y2="117.50" stroke="#000" stroke-width="0.8"/>
<line x1="154.40" y1="116.50" x2="154.40" y2="118.50" stroke="#000" stroke-width="0.8"/>
<line x1="158.20" y1="117.50" x2="162.50" y2="117.50" stroke="#000" stroke-width="0.8"/>
<line x1="162.50" y1="116.50" x2="162.50" y2="118.50" stroke="#000" stroke-width="0.8"/>
<line x1="158.50" y1="113.00" x2="158.50" y2="117.80" stroke="#000" stroke-width="0.8"/>
<line x1="157.50" y1="113.00" x2="159.50" y2="113.00" stroke="#000" stroke-width="0.8"/>
<line x1="158.50" y1="117.80" x2="158.50" y2="134.70" stroke="#000" stroke-width="0.8"/>
<line x1="157.50" y1="134.70" x2="159.50" y2="134.70" stroke="#000" stroke-width="0.8"/>
<circle cx="158.20" cy="117.80" r="2.2" fill="#000"/>
<line x1="152.00" y1="125.50" x2="159.00" y2="125.50" stroke="#000" stroke-width="0.8"/>
<line x1="152.00" y1="124.50" x2="152.00" y2="126.50" stroke="#000" stroke-width="0.8"/>
<line x1="159.00" y1="125.50" x2="164.75" y2="125.50" stroke="#000" stroke-width="0.8"/>
<line x1="164.75" y1="124.50" x2="164.75" y2="126.50" stroke="#000" stroke-width="0.8"/>
<line x1="159.50" y1="121.00" x2="159.50" y2="125.30" stroke="#000" stroke-width="0.8"/>
<line x1="158.50" y1="121.00" x2="160.50" y2="121.00" stroke="#000" stroke-width="0.8"/>
<line x1="159.50" y1="125.30" x2="159.50" y2="130.00" stroke="#000" stroke-width="0.8"/>
<line x1="158.50" y1="130.00" x2="160.50" y2="130.00" stroke="#000" stroke-width="0.8"/>
<circle cx="159.00" cy="125.30" r="2.2" fill="#000"/>
<line x1="155.50" y1="123.50" x2="155.50" y2="128.30" stroke="#000" stroke-width="0.8"/>
<line x1="154.50" y1="123.50" x2="156.50" y2="123.50" stroke="#000" stroke-width="0.8"/>
<line x1="155.50" y1="128.30" x2="155.50" y2="133.00" stroke="#000" stroke-width="0.8"/>
<line x1="154.50" y1="133.00" x2="156.50" y2="133.00" stroke="#000" stroke-width="0.8"/>
<circle cx="155.30" cy="128.30" r="2.2" fill="#000"/>
<line x1="140.00" y1="128.50" x2="144.90" y2="128.50" stroke="#000" stroke-width="0.8"/>
<line x1="140.00" y1="127.50" x2="140.00" y2="129.50" stroke="#000" stroke-width="0.8"/>
<line x1="144.90" y1="128.50" x2="150.00" y2="128.50" stroke="#000" stroke-width="0.8"/>
<line x1="150.00" y1="127.50" x2="150.00" y2="129.50" stroke="#000" stroke-width="0.8"/>
<line x1="144.50" y1="122.50" x2="144.50" y2="128.20" stroke="#000" stroke-width="0.8"/>
<line x1="143.50" y1="122.50" x2="145.50" y2="122.50" stroke="#000" stroke-width="0.8"/>
<line x1="144.50" y1="128.20" x2="144.50" y2="132.00" stroke="#000" stroke-width="0.8"/>
<line x1="143.50" y1="132.00" x2="145.50" y2="132.00" stroke="#000" stroke-width="0.8"/>
<circle cx="144.90" cy="128.20" r="2.2" fill="#000"/>
<line x1="150.50" y1="123.00" x2="150.50" y2="128.50" stroke="#000" stroke-width="0.8"/>
<line x1="149.50" y1="123.00" x2="151.50" y2="123.00" stroke="#000" stroke-width="0.8"/>
<line x1="150.50" y1="128.50" x2="150.50" y2="135.60" stroke="#000" stroke-width="0.8"/>
<line x1="149.50" y1="135.60" x2="151.50" y2="135.60" stroke="#000" stroke-width="0.8"/>
<circle cx="150.90" cy="128.50" r="2.2" fill="#000"/>
<line x1="132.00" y1="130.50" x2="135.40" y2="130.50" stroke="#000" stroke-width="0.8"/>
<line x1="132.00" y1="129.50" x2="132.00" y2="131.50" stroke="#000" stroke-width="0.8"/>
<line x1="135.40" y1="130.50" x2="139.00" y2="130.50" stroke="#000" stroke-width="0.8"/>
<line x1="139.00" y1="129.50" x2="139.00" y2="131.50" stroke="#000" stroke-width="0.8"/>
<line x1="135.50" y1="128.00" x2="135.50" y2="130.90" stroke="#000" stroke-width="0.8"/>
<line x1="134.50" y1="128.00" x2="136.50" y2="128.00" stroke="#000" stroke-width="0.8"/>
<line x1="135.50" y1="130.90" x2="135.50" y2="134.00" stroke="#000" stroke-width="0.8"/>
<line x1="134.50" y1="134.00" x2="136.50" y2="134.00" stroke="#000" stroke-width="0.8"/>
<circle cx="135.40" cy="130.90" r="2.2" fill="#000"/>
<line x1="121.50" y1="131.50" x2="130.30" y2="131.50" stroke="#000" stroke-width="0.8"/>
<line x1="121.50" y1="130.50" x2="121.50" y2="132.50" stroke="#000" stroke-width="0.8"/>
<line x1="130.30" y1="131.50" x2="136.00" y2="131.50" stroke="#000" stroke-width="0.8"/>
<line x1="136.00" y1="130.50" x2="136.00" y2="132.50" stroke="#000" stroke-width="0.8"/>
<line x1="130.50" y1="125.00" x2="130.50" y2="131.30" stroke="#000" stroke-width="0.8"/>
<line x1="129.50" y1="125.00" x2="131.50" y2="125.00" stroke="#000" stroke-width="0.8"/>
<line x1="130.50" y1="131.30" x2="130.50" y2="137.50" stroke="#000" stroke-width="0.8"/>
<line x1="129.50" y1="137.50" x2="131.50" y2="137.50" stroke="#000" stroke-width="0.8"/>
<circle cx="130.30" cy="131.30" r="2.2" fill="#000"/>
<line x1="150.00" y1="136.50" x2="159.70" y2="136.50" stroke="#000" stroke-width="0.8"/>
<line x1="150.00" y1="135.50" x2="150.00" y2="137.50" stroke="#000" stroke-width="0.8"/>
<line x1="159.70" y1="136.50" x2="174.40" y2="136.50" stroke="#000" stroke-width="0.8"/>
<line x1="174.40" y1="135.50" x2="174.40" y2="137.50" stroke="#000" stroke-width="0.8"/>
<line x1="159.50" y1="131.00" x2="159.50" y2="136.30" stroke="#000" stroke-width="0.8"/>
<line x1="158.50" y1="131.00" x2="160.50" y2="131.00" stroke="#000" stroke-width="0.8"/>
<line x1="159.50" y1="136.30" x2="159.50" y2="141.00" stroke="#000" stroke-width="0.8"/>
<line x1="158.50" y1="141.00" x2="160.50" y2="141.00" stroke="#000" stroke-width="0.8"/>
<circle cx="159.70" cy="136.30" r="2.2" fill="#000"/>
<line x1="99.40" y1="126.50" x2="102.25" y2="126.50" stroke="#000" stroke-width="0.8"/>
<line x1="99.40" y1="125.50" x2="99.40" y2="127.50" stroke="#000" stroke-width="0.8"/>
<line x1="102.25" y1="126.50" x2="105.60" y2="126.50" stroke="#000" stroke-width="0.8"/>
<line x1="105.60" y1="125.50" x2="105.60" y2="127.50" stroke="#000" stroke-width="0.8"/>
<line x1="102.50" y1="121.90" x2="102.50" y2="126.90" stroke="#000" stroke-width="0.8"/>
<line x1="101.50" y1="121.90" x2="103.50" y2="121.90" stroke="#000" stroke-width="0.8"/>
<line x1="102.50" y1="126.90" x2="102.50" y2="131.90" stroke="#000" stroke-width="0.8"/>
<line x1="101.50" y1="131.90" x2="103.50" y2="131.90" stroke="#000" stroke-width="0.8"/>
<circle cx="102.25" cy="126.90" r="2.2" fill="#000"/>
<line x1="86.25" y1="131.50" x2="94.00" y2="131.50" stroke="#000" stroke-width="0.8"/>
<line x1="86.25" y1="130.50" x2="86.25" y2="132.50" stroke="#000" stroke-width="0.8"/>
<line x1="94.00" y1="131.50" x2="101.25" y2="131.50" stroke="#000" stroke-width="0.8"/>
<line x1="101.25" y1="130.50" x2="101.25" y2="132.50" stroke="#000" stroke-width="0.8"/>
<line x1="94.50" y1="125.00" x2="94.50" y2="131.25" stroke="#000" stroke-width="0.8"/>
<line x1="93.50" y1="125.00" x2="95.50" y2="125.00" stroke="#000" stroke-width="0.8"/>
<line x1="94.50" y1="131.25" x2="94.50" y2="136.25" stroke="#000" stroke-width="0.8"/>
<line x1="93.50" y1="136.25" x2="95.50" y2="136.25" stroke="#000" stroke-width="0.8"/>
<circle cx="94.00" cy="131.25" r="2.2" fill="#000"/>
<line x1="93.75" y1="136.50" x2="97.50" y2="136.50" stroke="#000" stroke-width="0.8"/>
<line x1="93.75" y1="135.50" x2="93.75" y2="137.50" stroke="#000" stroke-width="0.8"/>
<line x1="97.50" y1="136.50" x2="101.25" y2="136.50" stroke="#000" stroke-width="0.8"/>
<line x1="101.25" y1="135.50" x2="101.25" y2="137.50" stroke="#000" stroke-width="0.8"/>
<line x1="97.50" y1="132.50" x2="97.50" y2="136.50" stroke="#000" stroke-width="0.8"/>
<line x1="96.50" y1="132.50" x2="98.50" y2="132.50" stroke="#000" stroke-width="0.8"/>
<line x1="97.50" y1="136.50" x2="97.50" y2="142.50" stroke="#000" stroke-width="0.8"/>
<line x1="96.50" y1="142.50" x2="98.50" y2="142.50" stroke="#000" stroke-width="0.8"/>
<circle cx="97.50" cy="136.50" r="2.2" fill="#000"/>
<line x1="73.90" y1="145.50" x2="86.80" y2="145.50" stroke="#000" stroke-width="0.8"/>
<line x1="73.90" y1="144.50" x2="73.90" y2="146.50" stroke="#000" stroke-width="0.8"/>
<line x1="86.80" y1="145.50" x2="97.60" y2="145.50" stroke="#000" stroke-width="0.8"/>
<line x1="97.60" y1="144.50" x2="97.60" y2="146.50" stroke="#000" stroke-width="0.8"/>
<line x1="86.50" y1="140.20" x2="86.50" y2="145.40" stroke="#000" stroke-width="0.8"/>
<line x1="85.50" y1="140.20" x2="87.50" y2="140.20" stroke="#000" stroke-width="0.8"/>
<line x1="86.50" y1="145.40" x2="86.50" y2="150.00" stroke="#000" stroke-width="0.8"/>
<line x1="85.50" y1="150.00" x2="87.50" y2="150.00" stroke="#000" stroke-width="0.8"/>
<circle cx="86.80" cy="145.40" r="2.2" fill="#000"/>
<polygon points="82.30,145.30 89.90,145.30 86.10,151.50" fill="#ffb6c1"/>
<line x1="77.60" y1="152.50" x2="83.00" y2="152.50" stroke="#000" stroke-width="0.8"/>
<line x1="77.60" y1="151.50" x2="77.60" y2="153.50" stroke="#000" stroke-width="0.8"/>
<line x1="83.00" y1="152.50" x2="89.50" y2="152.50" stroke="#000" stroke-width="0.8"/>
<line x1="89.50" y1="151.50" x2="89.50" y2="153.50" stroke="#000" stroke-width="0.8"/>
<circle cx="83.00" cy="152.00" r="2.2" fill="#000"/>
<line x1="78.10" y1="161.50" x2="84.75" y2="161.50" stroke="#000" stroke-width="0.8"/>
<line x1="78.10" y1="160.50" x2="78.10" y2="162.50" stroke="#000" stroke-width="0.8"/>
<line x1="84.75" y1="161.50" x2="90.60" y2="161.50" stroke="#000" stroke-width="0.8"/>
<line x1="90.60" y1="160.50" x2="90.60" y2="162.50" stroke="#000" stroke-width="0.8"/>
<line x1="84.50" y1="155.00" x2="84.50" y2="161.90" stroke="#000" stroke-width="0.8"/>
<line x1="83.50" y1="155.00" x2="85.50" y2="155.00" stroke="#000" stroke-width="0.8"/>
<line x1="84.50" y1="161.90" x2="84.50" y2="166.00" stroke="#000" stroke-width="0.8"/>
<line x1="83.50" y1="166.00" x2="85.50" y2="166.00" stroke="#000" stroke-width="0.8"/>
<circle cx="84.75" cy="161.90" r="2.2" fill="#000"/>
<line x1="83.10" y1="168.50" x2="85.60" y2="168.50" stroke="#000" stroke-width="0.8"/>
<line x1="83.10" y1="167.50" x2="83.10" y2="169.50" stroke="#000" stroke-width="0.8"/>
<line x1="85.60" y1="168.50" x2="90.00" y2="168.50" stroke="#000" stroke-width="0.8"/>
<line x1="90.00" y1="167.50" x2="90.00" y2="169.50" stroke="#000" stroke-width="0.8"/>
<line x1="85.50" y1="163.75" x2="85.50" y2="168.10" stroke="#000" stroke-width="0.8"/>
<line x1="84.50" y1="163.75" x2="86.50" y2="163.75" stroke="#000" stroke-width="0.8"/>
<line x1="85.50" y1="168.10" x2="85.50" y2="173.75" stroke="#000" stroke-width="0.8"/>
<line x1="84.50" y1="173.75" x2="86.50" y2="173.75" stroke="#000" stroke-width="0.8"/>
<circle cx="85.60" cy="168.10" r="2.2" fill="#000"/>
<line x1="80.00" y1="194.50" x2="88.50" y2="194.50" stroke="#000" stroke-width="0.8"/>
<line x1="80.00" y1="193.50" x2="80.00" y2="195.50" stroke="#000" stroke-width="0.8"/>
<line x1="88.50" y1="194.50" x2="96.90" y2="194.50" stroke="#000" stroke-width="0.8"/>
<line x1="96.90" y1="193.50" x2="96.90" y2="195.50" stroke="#000" stroke-width="0.8"/>
<line x1="88.50" y1="188.00" x2="88.50" y2="194.75" stroke="#000" stroke-width="0.8"/>
<line x1="87.50" y1="188.00" x2="89.50" y2="188.00" stroke="#000" stroke-width="0.8"/>
<line x1="88.50" y1="194.75" x2="88.50" y2="200.60" stroke="#000" stroke-width="0.8"/>
<line x1="87.50" y1="200.60" x2="89.50" y2="200.60" stroke="#000" stroke-width="0.8"/>
<circle cx="88.50" cy="194.75" r="2.2" fill="#000"/>
<line x1="86.50" y1="197.50" x2="86.50" y2="206.25" stroke="#000" stroke-width="0.8"/>
<line x1="85.50" y1="197.50" x2="87.50" y2="197.50" stroke="#000" stroke-width="0.8"/>
<line x1="86.50" y1="206.25" x2="86.50" y2="218.75" stroke="#000" stroke-width="0.8"/>
<line x1="85.50" y1="218.75" x2="87.50" y2="218.75" stroke="#000" stroke-width="0.8"/>
<circle cx="86.00" cy="206.25" r="2.2" fill="#000"/>
<text x="148.10" y="68.90" class="sm">M8</text>
<text x="159.75" y="103.00" class="sm">L3</text>
<text x="176.25" y="132.65" class="sm">L8</text>
<text x="95.25" y="117.15" class="sm">T4.5</text>
<text x="100.40" y="164.15" class="sm">T7.5</text>
<text x="102.25" y="208.80" class="sm">T9</text>
<line x1="335.25" y1="23.50" x2="345.60" y2="23.50" stroke="#1414b4" stroke-width="0.8"/>
<line x1="335.25" y1="22.50" x2="335.25" y2="24.50" stroke="#1414b4" stroke-width="0.8"/>
<line x1="345.60" y1="23.50" x2="356.00" y2="23.50" stroke="#1414b4" stroke-width="0.8"/>
<line x1="356.00" y1="22.50" x2="356.00" y2="24.50" stroke="#1414b4" stroke-width="0.8"/>
<polygon points="345.60,19.50 348.60,21.20 348.60,25.00 345.60,26.70 342.60,25.00 342.60,21.20" fill="#0000ff"/>
<rect x="346.60" y="32.60" width="5.8" height="5.8" fill="#0000ff"/>
<rect x="348.10" y="31.60" width="5.8" height="5.8" fill="#0000ff"/>
<line x1="355.50" y1="84.50" x2="363.40" y2="84.50" stroke="#1414b4" stroke-width="0.8"/>
<line x1="355.50" y1="83.50" x2="355.50" y2="85.50" stroke="#1414b4" stroke-width="0.8"/>
<line x1="363.40" y1="84.50" x2="371.00" y2="84.50" stroke="#1414b4" stroke-width="0.8"/>
<line x1="371.00" y1="83.50" x2="371.00" y2="85.50" stroke="#1414b4" stroke-width="0.8"/>
<polygon points="363.40,81.30 366.40,83.00 366.40,86.80 363.40,88.50 360.40,86.80 360.40,83.00" fill="#0000ff"/>
<line x1="378.90" y1="166.50" x2="392.20" y2="166.50" stroke="#1414b4" stroke-width="0.8"/>
<line x1="378.90" y1="165.50" x2="378.90" y2="167.50" stroke="#1414b4" stroke-width="0.8"/>
<line x1="392.20" y1="166.50" x2="405.50" y2="166.50" stroke="#1414b4" stroke-width="0.8"/>
<line x1="405.50" y1="165.50" x2="405.50" y2="167.50" stroke="#1414b4" stroke-width="0.8"/>
<line x1="392.50" y1="162.60" x2="392.50" y2="166.60" stroke="#1414b4" stroke-width="0.8"/>
<line x1="391.50" y1="162.60" x2="393.50" y2="162.60" stroke="#1414b4" stroke-width="0.8"/>
<line x1="392.50" y1="166.60" x2="392.50" y2="170.70" stroke="#1414b4" stroke-width="0.8"/>
<line x1="391.50" y1="170.70" x2="393.50" y2="170.70" stroke="#1414b4" stroke-width="0.8"/>
<rect x="389.30" y="163.70" width="5.8" height="5.8" fill="#0000ff"/>
<line x1="324.40" y1="53.50" x2="328.75" y2="53.50" stroke="#2f6a2f" stroke-width="0.8"/>
<line x1="324.40" y1="52.50" x2="324.40" y2="54.50" stroke="#2f6a2f" stroke-width="0.8"/>
<line x1="328.75" y1="53.50" x2="333.10" y2="53.50" stroke="#2f6a2f" stroke-width="0.8"/>
<line x1="333.10" y1="52.50" x2="333.10" y2="54.50" stroke="#2f6a2f" stroke-width="0.8"/>
<polygon points="325.05,56.14 332.45,56.14 328.75,49.74" fill="#228b22"/>
<polygon points="332.55,55.14 339.95,55.14 336.25,48.74" fill="#228b22"/>
<polygon points="334.40,59.54 341.80,59.54 338.10,53.14" fill="#228b22"/>
<line x1="336.90" y1="62.50" x2="345.60" y2="62.50" stroke="#2f6a2f" stroke-width="0.8"/>
<line x1="336.90" y1="61.50" x2="336.90" y2="63.50" stroke="#2f6a2f" stroke-width="0.8"/>
<line x1="345.60" y1="62.50" x2="353.75" y2="62.50" stroke="#2f6a2f" stroke-width="0.8"/>
<line x1="353.75" y1="61.50" x2="353.75" y2="63.50" stroke="#2f6a2f" stroke-width="0.8"/>
<polygon points="341.90,64.54 349.30,64.54 345.60,58.14" fill="#228b22"/>
<line x1="315.25" y1="68.50" x2="321.00" y2="68.50" stroke="#2f6a2f" stroke-width="0.8"/>
<line x1="315.25" y1="67.50" x2="315.25" y2="69.50" stroke="#2f6a2f" stroke-width="0.8"/>
<line x1="321.00" y1="68.50" x2="326.50" y2="68.50" stroke="#2f6a2f" stroke-width="0.8"/>
<line x1="326.50" y1="67.50" x2="326.50" y2="69.50" stroke="#2f6a2f" stroke-width="0.8"/>
<line x1="321.50" y1="64.40" x2="321.50" y2="68.10" stroke="#2f6a2f" stroke-width="0.8"/>
<line x1="320.50" y1="64.40" x2="322.50" y2="64.40" stroke="#2f6a2f" stroke-width="0.8"/>
<line x1="321.50" y1="68.10" x2="321.50" y2="72.50" stroke="#2f6a2f" stroke-width="0.8"/>
<line x1="320.50" y1="72.50" x2="322.50" y2="72.50" stroke="#2f6a2f" stroke-width="0.8"/>
<polygon points="317.30,71.14 324.70,71.14 321.00,64.74" fill="#228b22"/>
<line x1="320.25" y1="81.50" x2="325.60" y2="81.50" stroke="#2f6a2f" stroke-width="0.8"/>
<line x1="320.25" y1="80.50" x2="320.25" y2="82.50" stroke="#2f6a2f" stroke-width="0.8"/>
<line x1="325.60" y1="81.50" x2="330.60" y2="81.50" stroke="#2f6a2f" stroke-width="0.8"/>
<line x1="330.60" y1="80.50" x2="330.60" y2="82.50" stroke="#2f6a2f" stroke-width="0.8"/>
<polygon points="321.90,83.29 329.30,83.29 325.60,76.89" fill="#228b22"/>
<polygon points="339.70,106.40 347.30,106.40 343.50,112.60" fill="#ffb6c1"/>
<line x1="276.00" y1="148.50" x2="279.50" y2="148.50" stroke="#ffb6c1" stroke-width="0.8"/>
<line x1="276.00" y1="147.50" x2="276.00" y2="149.50" stroke="#ffb6c1" stroke-width="0.8"/>
<line x1="279.50" y1="148.50" x2="283.00" y2="148.50" stroke="#ffb6c1" stroke-width="0.8"/>
<line x1="283.00" y1="147.50" x2="283.00" y2="149.50" stroke="#ffb6c1" stroke-width="0.8"/>
<polygon points="275.70,146.00 283.30,146.00 279.50,152.20" fill="#ffb6c1"/>
<line x1="264.50" y1="179.50" x2="271.25" y2="179.50" stroke="#ffb6c1" stroke-width="0.8"/>
<line x1="264.50" y1="178.50" x2="264.50" y2="180.50" stroke="#ffb6c1" stroke-width="0.8"/>
<line x1="271.25" y1="179.50" x2="278.75" y2="179.50" stroke="#ffb6c1" stroke-width="0.8"/>
<line x1="278.75" y1="178.50" x2="278.75" y2="180.50" stroke="#ffb6c1" stroke-width="0.8"/>
<polygon points="267.45,176.75 275.05,176.75 271.25,182.95" fill="#ffb6c1"/>
<line x1="237.00" y1="189.50" x2="247.00" y2="189.50" stroke="#ffb6c1" stroke-width="0.8"/>
<line x1="237.00" y1="188.50" x2="237.00" y2="190.50" stroke="#ffb6c1" stroke-width="0.8"/>
<line x1="247.00" y1="189.50" x2="256.25" y2="189.50" stroke="#ffb6c1" stroke-width="0.8"/>
<line x1="256.25" y1="188.50" x2="256.25" y2="190.50" stroke="#ffb6c1" stroke-width="0.8"/>
<polygon points="243.20,187.10 250.80,187.10 247.00,193.30" fill="#ffb6c1"/>
<line x1="256.25" y1="189.50" x2="278.25" y2="189.50" stroke="#ffb6c1" stroke-width="0.8"/>
<line x1="256.25" y1="188.50" x2="256.25" y2="190.50" stroke="#ffb6c1" stroke-width="0.8"/>
<line x1="278.25" y1="189.50" x2="299.80" y2="189.50" stroke="#ffb6c1" stroke-width="0.8"/>
<line x1="299.80" y1="188.50" x2="299.80" y2="190.50" stroke="#ffb6c1" stroke-width="0.8"/>
<polygon points="274.45,187.10 282.05,187.10 278.25,193.30" fill="#ffb6c1"/>
<line x1="341.50" y1="49.70" x2="341.50" y2="55.00" stroke="#000" stroke-width="0.8"/>
<line x1="340.50" y1="49.70" x2="342.50" y2="49.70" stroke="#000" stroke-width="0.8"/>
<line x1="341.50" y1="55.00" x2="341.50" y2="58.00" stroke="#000" stroke-width="0.8"/>
<line x1="340.50" y1="58.00" x2="342.50" y2="58.00" stroke="#000" stroke-width="0.8"/>
<circle cx="341.50" cy="55.00" r="2.2" fill="#000"/>
<line x1="345.50" y1="45.90" x2="345.50" y2="53.60" stroke="#000" stroke-width="0.8"/>
<line x1="344.50" y1="45.90" x2="346.50" y2="45.90" stroke="#000" stroke-width="0.8"/>
<circle cx="345.00" cy="53.60" r="2.2" fill="#000"/>
<circle cx="343.00" cy="57.20" r="2.2" fill="#000"/>
<line x1="345.30" y1="66.50" x2="348.20" y2="66.50" stroke="#000" stroke-width="0.8"/>
<line x1="345.30" y1="65.50" x2="345.30" y2="67.50" stroke="#000" stroke-width="0.8"/>
<line x1="348.20" y1="66.50" x2="351.60" y2="66.50" stroke="#000" stroke-width="0.8"/>
<line x1="351.60" y1="65.50" x2="351.60" y2="67.50" stroke="#000" stroke-width="0.8"/>
<line x1="348.50" y1="62.50" x2="348.50" y2="66.00" stroke="#000" stroke-width="0.8"/>
<line x1="347.50" y1="62.50" x2="349.50" y2="62.50" stroke="#000" stroke-width="0.8"/>
<line x1="348.50" y1="66.00" x2="348.50" y2="69.50" stroke="#000" stroke-width="0.8"/>
<line x1="347.50" y1="69.50" x2="349.50" y2="69.50" stroke="#000" stroke-width="0.8"/>
<circle cx="348.20" cy="66.00" r="2.2" fill="#000"/>
<line x1="342.00" y1="73.50" x2="347.30" y2="73.50" stroke="#000" stroke-width="0.8"/>
<line x1="342.00" y1="72.50" x2="342.00" y2="74.50" stroke="#000" stroke-width="0.8"/>
<line x1="347.30" y1="73.50" x2="353.20" y2="73.50" stroke="#000" stroke-width="0.8"/>
<line x1="353.20" y1="72.50" x2="353.20" y2="74.50" stroke="#000" stroke-width="0.8"/>
<line x1="347.50" y1="70.50" x2="347.50" y2="73.90" stroke="#000" stroke-width="0.8"/>
<line x1="346.50" y1="70.50" x2="348.50" y2="70.50" stroke="#000" stroke-width="0.8"/>
<line x1="347.50" y1="73.90" x2="347.50" y2="78.00" stroke="#000" stroke-width="0.8"/>
<line x1="346.50" y1="78.00" x2="348.50" y2="78.00" stroke="#000" stroke-width="0.8"/>
<circle cx="347.30" cy="73.90" r="2.2" fill="#000"/>
<line x1="345.50" y1="77.50" x2="348.60" y2="77.50" stroke="#000" stroke-width="0.8"/>
<line x1="345.50" y1="76.50" x2="345.50" y2="78.50" stroke="#000" stroke-width="0.8"/>
<line x1="348.60" y1="77.50" x2="352.00" y2="77.50" stroke="#000" stroke-width="0.8"/>
<line x1="352.00" y1="76.50" x2="352.00" y2="78.50" stroke="#000" stroke-width="0.8"/>
<circle cx="348.60" cy="77.20" r="2.2" fill="#000"/>
<circle cx="349.30" cy="79.90" r="2.2" fill="#000"/>
<line x1="347.00" y1="81.50" x2="350.60" y2="81.50" stroke="#000" stroke-width="0.8"/>
<line x1="347.00" y1="80.50" x2="347.00" y2="82.50" stroke="#000" stroke-width="0.8"/>
<line x1="350.60" y1="81.50" x2="353.90" y2="81.50" stroke="#000" stroke-width="0.8"/>
<line x1="353.90" y1="80.50" x2="353.90" y2="82.50" stroke="#000" stroke-width="0.8"/>
<line x1="350.50" y1="81.90" x2="350.50" y2="87.20" stroke="#000" stroke-width="0.8"/>
<line x1="349.50" y1="87.20" x2="351.50" y2="87.20" stroke="#000" stroke-width="0.8"/>
<circle cx="350.60" cy="81.90" r="2.2" fill="#000"/>
<line x1="353.50" y1="100.50" x2="358.75" y2="100.50" stroke="#000" stroke-width="0.8"/>
<line x1="353.50" y1="99.50" x2="353.50" y2="101.50" stroke="#000" stroke-width="0.8"/>
<line x1="358.75" y1="100.50" x2="363.10" y2="100.50" stroke="#000" stroke-width="0.8"/>
<line x1="363.10" y1="99.50" x2="363.10" y2="101.50" stroke="#000" stroke-width="0.8"/>
<line x1="358.50" y1="95.75" x2="358.50" y2="100.75" stroke="#000" stroke-width="0.8"/>
<line x1="357.50" y1="95.75" x2="359.50" y2="95.75" stroke="#000" stroke-width="0.8"/>
<line x1="358.50" y1="100.75" x2="358.50" y2="105.10" stroke="#000" stroke-width="0.8"/>
<line x1="357.50" y1="105.10" x2="359.50" y2="105.10" stroke="#000" stroke-width="0.8"/>
<circle cx="358.75" cy="100.75" r="2.2" fill="#000"/>
<line x1="350.60" y1="112.50" x2="358.80" y2="112.50" stroke="#000" stroke-width="0.8"/>
<line x1="350.60" y1="111.50" x2="350.60" y2="113.50" stroke="#000" stroke-width="0.8"/>
<line x1="358.80" y1="112.50" x2="366.90" y2="112.50" stroke="#000" stroke-width="0.8"/>
<line x1="366.90" y1="111.50" x2="366.90" y2="113.50" stroke="#000" stroke-width="0.8"/>
<line x1="358.50" y1="112.60" x2="358.50" y2="121.80" stroke="#000" stroke-width="0.8"/>
<line x1="357.50" y1="121.80" x2="359.50" y2="121.80" stroke="#000" stroke-width="0.8"/>
<circle cx="358.80" cy="112.60" r="2.2" fill="#000"/>
<line x1="357.50" y1="118.50" x2="364.40" y2="118.50" stroke="#000" stroke-width="0.8"/>
<line x1="357.50" y1="117.50" x2="357.50" y2="119.50" stroke="#000" stroke-width="0.8"/>
<line x1="364.40" y1="118.50" x2="371.90" y2="118.50" stroke="#000" stroke-width="0.8"/>
<line x1="371.90" y1="117.50" x2="371.90" y2="119.50" stroke="#000" stroke-width="0.8"/>
<line x1="364.50" y1="114.00" x2="364.50" y2="118.10" stroke="#000" stroke-width="0.8"/>
<line x1="363.50" y1="114.00" x2="365.50" y2="114.00" stroke="#000" stroke-width="0.8"/>
<line x1="364.50" y1="118.10" x2="364.50" y2="123.00" stroke="#000" stroke-width="0.8"/>
<line x1="363.50" y1="123.00" x2="365.50" y2="123.00" stroke="#000" stroke-width="0.8"/>
<circle cx="364.40" cy="118.10" r="2.2" fill="#000"/>
<line x1="362.00" y1="125.50" x2="368.10" y2="125.50" stroke="#000" stroke-width="0.8"/>
<line x1="362.00" y1="124.50" x2="362.00" y2="126.50" stroke="#000" stroke-width="0.8"/>
<line x1="368.10" y1="125.50" x2="373.75" y2="125.50" stroke="#000" stroke-width="0.8"/>
<line x1="373.75" y1="124.50" x2="373.75" y2="126.50" stroke="#000" stroke-width="0.8"/>
<line x1="368.50" y1="116.25" x2="368.50" y2="125.00" stroke="#000" stroke-width="0.8"/>
<line x1="367.50" y1="116.25" x2="369.50" y2="116.25" stroke="#000" stroke-width="0.8"/>
<line x1="368.50" y1="125.00" x2="368.50" y2="130.00" stroke="#000" stroke-width="0.8"/>
<line x1="367.50" y1="130.00" x2="369.50" y2="130.00" stroke="#000" stroke-width="0.8"/>
<circle cx="368.10" cy="125.00" r="2.2" fill="#000"/>
<line x1="355.80" y1="127.50" x2="361.00" y2="127.50" stroke="#000" stroke-width="0.8"/>
<line x1="355.80" y1="126.50" x2="355.80" y2="128.50" stroke="#000" stroke-width="0.8"/>
<line x1="361.00" y1="127.50" x2="368.00" y2="127.50" stroke="#000" stroke-width="0.8"/>
<line x1="368.00" y1="126.50" x2="368.00" y2="128.50" stroke="#000" stroke-width="0.8"/>
<line x1="361.50" y1="122.00" x2="361.50" y2="127.70" stroke="#000" stroke-width="0.8"/>
<line x1="360.50" y1="122.00" x2="362.50" y2="122.00" stroke="#000" stroke-width="0.8"/>
<line x1="361.50" y1="127.70" x2="361.50" y2="141.60" stroke="#000" stroke-width="0.8"/>
<line x1="360.50" y1="141.60" x2="362.50" y2="141.60" stroke="#000" stroke-width="0.8"/>
<circle cx="361.00" cy="127.70" r="2.2" fill="#000"/>
<line x1="353.75" y1="135.50" x2="361.00" y2="135.50" stroke="#000" stroke-width="0.8"/>
<line x1="353.75" y1="134.50" x2="353.75" y2="136.50" stroke="#000" stroke-width="0.8"/>
<line x1="361.00" y1="135.50" x2="366.00" y2="135.50" stroke="#000" stroke-width="0.8"/>
<line x1="366.00" y1="134.50" x2="366.00" y2="136.50" stroke="#000" stroke-width="0.8"/>
<line x1="361.50" y1="130.00" x2="361.50" y2="135.50" stroke="#000" stroke-width="0.8"/>
<line x1="360.50" y1="130.00" x2="362.50" y2="130.00" stroke="#000" stroke-width="0.8"/>
<line x1="361.50" y1="135.50" x2="361.50" y2="141.00" stroke="#000" stroke-width="0.8"/>
<line x1="360.50" y1="141.00" x2="362.50" y2="141.00" stroke="#000" stroke-width="0.8"/>
<circle cx="361.00" cy="135.50" r="2.2" fill="#000"/>
<line x1="360.00" y1="135.50" x2="366.90" y2="135.50" stroke="#000" stroke-width="0.8"/>
<line x1="360.00" y1="134.50" x2="360.00" y2="136.50" stroke="#000" stroke-width="0.8"/>
<line x1="366.90" y1="135.50" x2="378.75" y2="135.50" stroke="#000" stroke-width="0.8"/>
<line x1="378.75" y1="134.50" x2="378.75" y2="136.50" stroke="#000" stroke-width="0.8"/>
<line x1="366.50" y1="128.75" x2="366.50" y2="135.60" stroke="#000" stroke-width="0.8"/>
<line x1="365.50" y1="128.75" x2="367.50" y2="128.75" stroke="#000" stroke-width="0.8"/>
<line x1="366.50" y1="135.60" x2="366.50" y2="140.60" stroke="#000" stroke-width="0.8"/>
<line x1="365.50" y1="140.60" x2="367.50" y2="140.60" stroke="#000" stroke-width="0.8"/>
<circle cx="366.90" cy="135.60" r="2.2" fill="#000"/>
<line x1="306.60" y1="126.50" x2="312.40" y2="126.50" stroke="#000" stroke-width="0.8"/>
<line x1="306.60" y1="125.50" x2="306.60" y2="127.50" stroke="#000" stroke-width="0.8"/>
<line x1="312.40" y1="126.50" x2="318.40" y2="126.50" stroke="#000" stroke-width="0.8"/>
<line x1="318.40" y1="125.50" x2="318.40" y2="127.50" stroke="#000" stroke-width="0.8"/>
<line x1="312.50" y1="121.90" x2="312.50" y2="126.90" stroke="#000" stroke-width="0.8"/>
<line x1="311.50" y1="121.90" x2="313.50" y2="121.90" stroke="#000" stroke-width="0.8"/>
<line x1="312.50" y1="126.90" x2="312.50" y2="131.00" stroke="#000" stroke-width="0.8"/>
<line x1="311.50" y1="131.00" x2="313.50" y2="131.00" stroke="#000" stroke-width="0.8"/>
<circle cx="312.40" cy="126.90" r="2.2" fill="#000"/>
<line x1="310.00" y1="131.50" x2="313.30" y2="131.50" stroke="#000" stroke-width="0.8"/>
<line x1="310.00" y1="130.50" x2="310.00" y2="132.50" stroke="#000" stroke-width="0.8"/>
<line x1="313.30" y1="131.50" x2="317.00" y2="131.50" stroke="#000" stroke-width="0.8"/>
<line x1="317.00" y1="130.50" x2="317.00" y2="132.50" stroke="#000" stroke-width="0.8"/>
<circle cx="313.30" cy="131.10" r="2.2" fill="#000"/>
<line x1="317.00" y1="131.50" x2="321.10" y2="131.50" stroke="#000" stroke-width="0.8"/>
<line x1="317.00" y1="130.50" x2="317.00" y2="132.50" stroke="#000" stroke-width="0.8"/>
<line x1="321.10" y1="131.50" x2="326.00" y2="131.50" stroke="#000" stroke-width="0.8"/>
<line x1="326.00" y1="130.50" x2="326.00" y2="132.50" stroke="#000" stroke-width="0.8"/>
<line x1="321.50" y1="124.65" x2="321.50" y2="131.40" stroke="#000" stroke-width="0.8"/>
<line x1="320.50" y1="124.65" x2="322.50" y2="124.65" stroke="#000" stroke-width="0.8"/>
<line x1="321.50" y1="131.40" x2="321.50" y2="136.00" stroke="#000" stroke-width="0.8"/>
<line x1="320.50" y1="136.00" x2="322.50" y2="136.00" stroke="#000" stroke-width="0.8"/>
<circle cx="321.10" cy="131.40" r="2.2" fill="#000"/>
<line x1="314.70" y1="136.50" x2="321.10" y2="136.50" stroke="#000" stroke-width="0.8"/>
<line x1="314.70" y1="135.50" x2="314.70" y2="137.50" stroke="#000" stroke-width="0.8"/>
<line x1="321.10" y1="136.50" x2="326.65" y2="136.50" stroke="#000" stroke-width="0.8"/>
<line x1="326.65" y1="135.50" x2="326.65" y2="137.50" stroke="#000" stroke-width="0.8"/>
<circle cx="321.10" cy="136.60" r="2.2" fill="#000"/>
<line x1="326.00" y1="131.50" x2="329.50" y2="131.50" stroke="#000" stroke-width="0.8"/>
<line x1="326.00" y1="130.50" x2="326.00" y2="132.50" stroke="#000" stroke-width="0.8"/>
<line x1="329.50" y1="131.50" x2="336.00" y2="131.50" stroke="#000" stroke-width="0.8"/>
<line x1="336.00" y1="130.50" x2="336.00" y2="132.50" stroke="#000" stroke-width="0.8"/>
<line x1="329.50" y1="125.00" x2="329.50" y2="131.00" stroke="#000" stroke-width="0.8"/>
<line x1="328.50" y1="125.00" x2="330.50" y2="125.00" stroke="#000" stroke-width="0.8"/>
<line x1="329.50" y1="131.00" x2="329.50" y2="136.00" stroke="#000" stroke-width="0.8"/>
<line x1="328.50" y1="136.00" x2="330.50" y2="136.00" stroke="#000" stroke-width="0.8"/>
<circle cx="329.50" cy="131.00" r="2.2" fill="#000"/>
<line x1="332.50" y1="124.50" x2="332.50" y2="129.80" stroke="#000" stroke-width="0.8"/>
<line x1="331.50" y1="124.50" x2="333.50" y2="124.50" stroke="#000" stroke-width="0.8"/>
<circle cx="332.20" cy="129.80" r="2.2" fill="#000"/>
<line x1="334.50" y1="132.50" x2="339.00" y2="132.50" stroke="#000" stroke-width="0.8"/>
<line x1="339.00" y1="131.50" x2="339.00" y2="133.50" stroke="#000" stroke-width="0.8"/>
<line x1="334.50" y1="126.00" x2="334.50" y2="132.30" stroke="#000" stroke-width="0.8"/>
<line x1="333.50" y1="126.00" x2="335.50" y2="126.00" stroke="#000" stroke-width="0.8"/>
<line x1="334.50" y1="132.30" x2="334.50" y2="138.00" stroke="#000" stroke-width="0.8"/>
<line x1="333.50" y1="138.00" x2="335.50" y2="138.00" stroke="#000" stroke-width="0.8"/>
<circle cx="334.50" cy="132.30" r="2.2" fill="#000"/>
<line x1="333.00" y1="127.50" x2="340.40" y2="127.50" stroke="#000" stroke-width="0.8"/>
<line x1="333.00" y1="126.50" x2="333.00" y2="128.50" stroke="#000" stroke-width="0.8"/>
<line x1="340.40" y1="127.50" x2="348.90" y2="127.50" stroke="#000" stroke-width="0.8"/>
<line x1="348.90" y1="126.50" x2="348.90" y2="128.50" stroke="#000" stroke-width="0.8"/>
<line x1="340.50" y1="121.00" x2="340.50" y2="127.60" stroke="#000" stroke-width="0.8"/>
<line x1="339.50" y1="121.00" x2="341.50" y2="121.00" stroke="#000" stroke-width="0.8"/>
<line x1="340.50" y1="127.60" x2="340.50" y2="133.00" stroke="#000" stroke-width="0.8"/>
<line x1="339.50" y1="133.00" x2="341.50" y2="133.00" stroke="#000" stroke-width="0.8"/>
<circle cx="340.40" cy="127.60" r="2.2" fill="#000"/>
<line x1="299.50" y1="145.50" x2="308.00" y2="145.50" stroke="#000" stroke-width="0.8"/>
<line x1="299.50" y1="144.50" x2="299.50" y2="146.50" stroke="#000" stroke-width="0.8"/>
<line x1="308.00" y1="145.50" x2="314.00" y2="145.50" stroke="#000" stroke-width="0.8"/>
<line x1="314.00" y1="144.50" x2="314.00" y2="146.50" stroke="#000" stroke-width="0.8"/>
<line x1="308.50" y1="141.00" x2="308.50" y2="145.50" stroke="#000" stroke-width="0.8"/>
<line x1="307.50" y1="141.00" x2="309.50" y2="141.00" stroke="#000" stroke-width="0.8"/>
<line x1="308.50" y1="145.50" x2="308.50" y2="161.25" stroke="#000" stroke-width="0.8"/>
<line x1="307.50" y1="161.25" x2="309.50" y2="161.25" stroke="#000" stroke-width="0.8"/>
<circle cx="308.00" cy="145.50" r="2.2" fill="#000"/>
<line x1="311.00" y1="145.50" x2="314.50" y2="145.50" stroke="#000" stroke-width="0.8"/>
<line x1="311.00" y1="144.50" x2="311.00" y2="146.50" stroke="#000" stroke-width="0.8"/>
<line x1="314.50" y1="145.50" x2="328.00" y2="145.50" stroke="#000" stroke-width="0.8"/>
<line x1="328.00" y1="144.50" x2="328.00" y2="146.50" stroke="#000" stroke-width="0.8"/>
<line x1="314.50" y1="141.00" x2="314.50" y2="145.50" stroke="#000" stroke-width="0.8"/>
<line x1="313.50" y1="141.00" x2="315.50" y2="141.00" stroke="#000" stroke-width="0.8"/>
<line x1="314.50" y1="145.50" x2="314.50" y2="150.00" stroke="#000" stroke-width="0.8"/>
<line x1="313.50" y1="150.00" x2="315.50" y2="150.00" stroke="#000" stroke-width="0.8"/>
<circle cx="314.50" cy="145.50" r="2.2" fill="#000"/>
<line x1="311.25" y1="151.50" x2="317.80" y2="151.50" stroke="#000" stroke-width="0.8"/>
<line x1="311.25" y1="150.50" x2="311.25" y2="152.50" stroke="#000" stroke-width="0.8"/>
<line x1="317.80" y1="151.50" x2="323.75" y2="151.50" stroke="#000" stroke-width="0.8"/>
<line x1="323.75" y1="150.50" x2="323.75" y2="152.50" stroke="#000" stroke-width="0.8"/>
<line x1="317.50" y1="148.00" x2="317.50" y2="151.60" stroke="#000" stroke-width="0.8"/>
<line x1="316.50" y1="148.00" x2="318.50" y2="148.00" stroke="#000" stroke-width="0.8"/>
<line x1="317.50" y1="151.60" x2="317.50" y2="156.00" stroke="#000" stroke-width="0.8"/>
<line x1="316.50" y1="156.00" x2="318.50" y2="156.00" stroke="#000" stroke-width="0.8"/>
<circle cx="317.80" cy="151.60" r="2.2" fill="#000"/>
<line x1="293.00" y1="161.50" x2="308.00" y2="161.50" stroke="#000" stroke-width="0.8"/>
<line x1="293.00" y1="160.50" x2="293.00" y2="162.50" stroke="#000" stroke-width="0.8"/>
<line x1="308.00" y1="161.50" x2="322.50" y2="161.50" stroke="#000" stroke-width="0.8"/>
<line x1="322.50" y1="160.50" x2="322.50" y2="162.50" stroke="#000" stroke-width="0.8"/>
<line x1="308.50" y1="161.25" x2="308.50" y2="166.00" stroke="#000" stroke-width="0.8"/>
<line x1="307.50" y1="166.00" x2="309.50" y2="166.00" stroke="#000" stroke-width="0.8"/>
<circle cx="308.00" cy="161.25" r="2.2" fill="#000"/>
<line x1="306.25" y1="167.50" x2="315.00" y2="167.50" stroke="#000" stroke-width="0.8"/>
<line x1="306.25" y1="166.50" x2="306.25" y2="168.50" stroke="#000" stroke-width="0.8"/>
<line x1="315.00" y1="167.50" x2="323.75" y2="167.50" stroke="#000" stroke-width="0.8"/>
<line x1="323.75" y1="166.50" x2="323.75" y2="168.50" stroke="#000" stroke-width="0.8"/>
<line x1="315.50" y1="161.25" x2="315.50" y2="167.50" stroke="#000" stroke-width="0.8"/>
<line x1="314.50" y1="161.25" x2="316.50" y2="161.25" stroke="#000" stroke-width="0.8"/>
<line x1="315.50" y1="167.50" x2="315.50" y2="173.75" stroke="#000" stroke-width="0.8"/>
<line x1="314.50" y1="173.75" x2="316.50" y2="173.75" stroke="#000" stroke-width="0.8"/>
<circle cx="315.00" cy="167.50" r="2.2" fill="#000"/>
<line x1="303.75" y1="194.50" x2="314.25" y2="194.50" stroke="#000" stroke-width="0.8"/>
<line x1="303.75" y1="193.50" x2="303.75" y2="195.50" stroke="#000" stroke-width="0.8"/>
<line x1="314.25" y1="194.50" x2="325.00" y2="194.50" stroke="#000" stroke-width="0.8"/>
<line x1="325.00" y1="193.50" x2="325.00" y2="195.50" stroke="#000" stroke-width="0.8"/>
<line x1="314.50" y1="188.75" x2="314.50" y2="194.50" stroke="#000" stroke-width="0.8"/>
<line x1="313.50" y1="188.75" x2="315.50" y2="188.75" stroke="#000" stroke-width="0.8"/>
<line x1="314.50" y1="194.50" x2="314.50" y2="201.25" stroke="#000" stroke-width="0.8"/>
<line x1="313.50" y1="201.25" x2="315.50" y2="201.25" stroke="#000" stroke-width="0.8"/>
<circle cx="314.25" cy="194.50" r="2.2" fill="#000"/>
<line x1="303.50" y1="206.50" x2="310.00" y2="206.50" stroke="#000" stroke-width="0.8"/>
<line x1="303.50" y1="205.50" x2="303.50" y2="207.50" stroke="#000" stroke-width="0.8"/>
<line x1="310.00" y1="206.50" x2="317.50" y2="206.50" stroke="#000" stroke-width="0.8"/>
<line x1="317.50" y1="205.50" x2="317.50" y2="207.50" stroke="#000" stroke-width="0.8"/>
<line x1="310.50" y1="198.50" x2="310.50" y2="206.00" stroke="#000" stroke-width="0.8"/>
<line x1="309.50" y1="198.50" x2="311.50" y2="198.50" stroke="#000" stroke-width="0.8"/>
<line x1="310.50" y1="206.00" x2="310.50" y2="217.60" stroke="#000" stroke-width="0.8"/>
<line x1="309.50" y1="217.60" x2="311.50" y2="217.60" stroke="#000" stroke-width="0.8"/>
<circle cx="310.00" cy="206.00" r="2.2" fill="#000"/>
<text x="360.00" y="68.90" class="sm">M8</text>
<text x="371.00" y="103.00" class="sm">L3</text>
<text x="384.00" y="132.65" class="sm">L8</text>
<text x="305.00" y="116.80" class="sm">T4.5</text>
<text x="325.00" y="164.15" class="sm">T7.5</text>
<text x="327.50" y="208.80" class="sm">T9</text>
<line x1="506.00" y1="23.50" x2="512.90" y2="23.50" stroke="#1414b4" stroke-width="0.8"/>
<line x1="506.00" y1="22.50" x2="506.00" y2="24.50" stroke="#1414b4" stroke-width="0.8"/>
<line x1="512.90" y1="23.50" x2="520.00" y2="23.50" stroke="#1414b4" stroke-width="0.8"/>
<line x1="520.00" y1="22.50" x2="520.00" y2="24.50" stroke="#1414b4" stroke-width="0.8"/>
<polygon points="512.90,19.90 515.90,21.60 515.90,25.40 512.90,27.10 509.90,25.40 509.90,21.60" fill="#0000ff"/>
<rect x="516.50" y="32.20" width="5.8" height="5.8" fill="#0000ff"/>
<rect x="520.10" y="31.10" width="5.8" height="5.8" fill="#0000ff"/>
<line x1="534.50" y1="85.50" x2="538.75" y2="85.50" stroke="#1414b4" stroke-width="0.8"/>
<line x1="534.50" y1="84.50" x2="534.50" y2="86.50" stroke="#1414b4" stroke-width="0.8"/>
<line x1="538.75" y1="85.50" x2="543.00" y2="85.50" stroke="#1414b4" stroke-width="0.8"/>
<line x1="543.00" y1="84.50" x2="543.00" y2="86.50" stroke="#1414b4" stroke-width="0.8"/>
<polygon points="538.75,81.90 541.75,83.60 541.75,87.40 538.75,89.10 535.75,87.40 535.75,83.60" fill="#0000ff"/>
<line x1="578.60" y1="166.50" x2="586.00" y2="166.50" stroke="#1414b4" stroke-width="0.8"/>
<line x1="578.60" y1="165.50" x2="578.60" y2="167.50" stroke="#1414b4" stroke-width="0.8"/>
<line x1="586.00" y1="166.50" x2="594.10" y2="166.50" stroke="#1414b4" stroke-width="0.8"/>
<line x1="594.10" y1="165.50" x2="594.10" y2="167.50" stroke="#1414b4" stroke-width="0.8"/>
<line x1="586.50" y1="162.30" x2="586.50" y2="166.50" stroke="#1414b4" stroke-width="0.8"/>
<line x1="585.50" y1="162.30" x2="587.50" y2="162.30" stroke="#1414b4" stroke-width="0.8"/>
<line x1="586.50" y1="166.50" x2="586.50" y2="170.80" stroke="#1414b4" stroke-width="0.8"/>
<line x1="585.50" y1="170.80" x2="587.50" y2="170.80" stroke="#1414b4" stroke-width="0.8"/>
<rect x="583.10" y="163.60" width="5.8" height="5.8" fill="#0000ff"/>
<polygon points="501.60,54.94 509.00,54.94 505.30,48.54" fill="#228b22"/>
<polygon points="503.30,55.64 510.70,55.64 507.00,49.24" fill="#228b22"/>
<line x1="502.50" y1="61.50" x2="508.75" y2="61.50" stroke="#2f6a2f" stroke-width="0.8"/>
<line x1="502.50" y1="60.50" x2="502.50" y2="62.50" stroke="#2f6a2f" stroke-width="0.8"/>
<line x1="508.75" y1="61.50" x2="514.00" y2="61.50" stroke="#2f6a2f" stroke-width="0.8"/>
<line x1="514.00" y1="60.50" x2="514.00" y2="62.50" stroke="#2f6a2f" stroke-width="0.8"/>
<polygon points="505.05,63.64 512.45,63.64 508.75,57.24" fill="#228b22"/>
<polygon points="507.90,60.54 515.30,60.54 511.60,54.14" fill="#228b22"/>
<line x1="489.50" y1="69.50" x2="491.60" y2="69.50" stroke="#2f6a2f" stroke-width="0.8"/>
<line x1="489.50" y1="68.50" x2="489.50" y2="70.50" stroke="#2f6a2f" stroke-width="0.8"/>
<line x1="491.60" y1="69.50" x2="493.70" y2="69.50" stroke="#2f6a2f" stroke-width="0.8"/>
<line x1="493.70" y1="68.50" x2="493.70" y2="70.50" stroke="#2f6a2f" stroke-width="0.8"/>
<line x1="491.50" y1="64.40" x2="491.50" y2="68.75" stroke="#2f6a2f" stroke-width="0.8"/>
<line x1="490.50" y1="64.40" x2="492.50" y2="64.40" stroke="#2f6a2f" stroke-width="0.8"/>
<line x1="491.50" y1="68.75" x2="491.50" y2="72.50" stroke="#2f6a2f" stroke-width="0.8"/>
<line x1="490.50" y1="72.50" x2="492.50" y2="72.50" stroke="#2f6a2f" stroke-width="0.8"/>
<polygon points="487.90,71.79 495.30,71.79 491.60,65.39" fill="#228b22"/>
<line x1="481.00" y1="81.50" x2="483.50" y2="81.50" stroke="#2f6a2f" stroke-width="0.8"/>
<line x1="481.00" y1="80.50" x2="481.00" y2="82.50" stroke="#2f6a2f" stroke-width="0.8"/>
<line x1="483.50" y1="81.50" x2="486.00" y2="81.50" stroke="#2f6a2f" stroke-width="0.8"/>
<line x1="486.00" y1="80.50" x2="486.00" y2="82.50" stroke="#2f6a2f" stroke-width="0.8"/>
<polygon points="479.80,83.64 487.20,83.64 483.50,77.24" fill="#228b22"/>
<polygon points="512.45,107.00 520.05,107.00 516.25,113.20" fill="#ffb6c1"/>
<polygon points="444.70,147.00 452.30,147.00 448.50,153.20" fill="#ffb6c1"/>
<line x1="440.00" y1="179.50" x2="444.50" y2="179.50" stroke="#ffb6c1" stroke-width="0.8"/>
<line x1="440.00" y1="178.50" x2="440.00" y2="180.50" stroke="#ffb6c1" stroke-width="0.8"/>
<line x1="444.50" y1="179.50" x2="448.90" y2="179.50" stroke="#ffb6c1" stroke-width="0.8"/>
<line x1="448.90" y1="178.50" x2="448.90" y2="180.50" stroke="#ffb6c1" stroke-width="0.8"/>
<polygon points="440.70,176.90 448.30,176.90 444.50,183.10" fill="#ffb6c1"/>
<line x1="426.60" y1="189.50" x2="432.30" y2="189.50" stroke="#ffb6c1" stroke-width="0.8"/>
<line x1="426.60" y1="188.50" x2="426.60" y2="190.50" stroke="#ffb6c1" stroke-width="0.8"/>
<line x1="432.30" y1="189.50" x2="438.00" y2="189.50" stroke="#ffb6c1" stroke-width="0.8"/>
<line x1="438.00" y1="188.50" x2="438.00" y2="190.50" stroke="#ffb6c1" stroke-width="0.8"/>
<polygon points="428.50,187.30 436.10,187.30 432.30,193.50" fill="#ffb6c1"/>
<line x1="438.00" y1="189.50" x2="445.60" y2="189.50" stroke="#ffb6c1" stroke-width="0.8"/>
<line x1="438.00" y1="188.50" x2="438.00" y2="190.50" stroke="#ffb6c1" stroke-width="0.8"/>
<line x1="445.60" y1="189.50" x2="456.60" y2="189.50" stroke="#ffb6c1" stroke-width="0.8"/>
<line x1="456.60" y1="188.50" x2="456.60" y2="190.50" stroke="#ffb6c1" stroke-width="0.8"/>
<polygon points="441.80,187.30 449.40,187.30 445.60,193.50" fill="#ffb6c1"/>
<line x1="514.50" y1="45.90" x2="514.50" y2="53.30" stroke="#000" stroke-width="0.8"/>
<line x1="513.50" y1="45.90" x2="515.50" y2="45.90" stroke="#000" stroke-width="0.8"/>
<circle cx="514.20" cy="53.30" r="2.2" fill="#000"/>
<line x1="515.50" y1="55.60" x2="515.50" y2="61.30" stroke="#000" stroke-width="0.8"/>
<line x1="514.50" y1="61.30" x2="516.50" y2="61.30" stroke="#000" stroke-width="0.8"/>
<circle cx="515.60" cy="55.60" r="2.2" fill="#000"/>
<circle cx="516.80" cy="54.00" r="2.2" fill="#000"/>
<line x1="521.50" y1="61.25" x2="521.50" y2="66.25" stroke="#000" stroke-width="0.8"/>
<line x1="520.50" y1="61.25" x2="522.50" y2="61.25" stroke="#000" stroke-width="0.8"/>
<line x1="521.50" y1="66.25" x2="521.50" y2="71.00" stroke="#000" stroke-width="0.8"/>
<line x1="520.50" y1="71.00" x2="522.50" y2="71.00" stroke="#000" stroke-width="0.8"/>
<circle cx="521.25" cy="66.25" r="2.2" fill="#000"/>
<circle cx="521.90" cy="73.70" r="2.2" fill="#000"/>
<circle cx="523.20" cy="76.10" r="2.2" fill="#000"/>
<circle cx="524.50" cy="79.20" r="2.2" fill="#000"/>
<line x1="525.50" y1="81.50" x2="525.50" y2="87.20" stroke="#000" stroke-width="0.8"/>
<line x1="524.50" y1="87.20" x2="526.50" y2="87.20" stroke="#000" stroke-width="0.8"/>
<circle cx="525.20" cy="81.50" r="2.2" fill="#000"/>
<line x1="530.00" y1="101.50" x2="535.50" y2="101.50" stroke="#000" stroke-width="0.8"/>
<line x1="530.00" y1="100.50" x2="530.00" y2="102.50" stroke="#000" stroke-width="0.8"/>
<line x1="535.50" y1="101.50" x2="538.75" y2="101.50" stroke="#000" stroke-width="0.8"/>
<line x1="538.75" y1="100.50" x2="538.75" y2="102.50" stroke="#000" stroke-width="0.8"/>
<line x1="535.50" y1="96.00" x2="535.50" y2="101.25" stroke="#000" stroke-width="0.8"/>
<line x1="534.50" y1="96.00" x2="536.50" y2="96.00" stroke="#000" stroke-width="0.8"/>
<line x1="535.50" y1="101.25" x2="535.50" y2="106.00" stroke="#000" stroke-width="0.8"/>
<line x1="534.50" y1="106.00" x2="536.50" y2="106.00" stroke="#000" stroke-width="0.8"/>
<circle cx="535.50" cy="101.25" r="2.2" fill="#000"/>
<line x1="526.70" y1="112.50" x2="534.70" y2="112.50" stroke="#000" stroke-width="0.8"/>
<line x1="526.70" y1="111.50" x2="526.70" y2="113.50" stroke="#000" stroke-width="0.8"/>
<line x1="534.70" y1="112.50" x2="545.20" y2="112.50" stroke="#000" stroke-width="0.8"/>
<line x1="545.20" y1="111.50" x2="545.20" y2="113.50" stroke="#000" stroke-width="0.8"/>
<line x1="534.50" y1="105.60" x2="534.50" y2="112.90" stroke="#000" stroke-width="0.8"/>
<line x1="533.50" y1="105.60" x2="535.50" y2="105.60" stroke="#000" stroke-width="0.8"/>
<line x1="534.50" y1="112.90" x2="534.50" y2="117.50" stroke="#000" stroke-width="0.8"/>
<line x1="533.50" y1="117.50" x2="535.50" y2="117.50" stroke="#000" stroke-width="0.8"/>
<circle cx="534.70" cy="112.90" r="2.2" fill="#000"/>
<line x1="538.00" y1="118.50" x2="542.50" y2="118.50" stroke="#000" stroke-width="0.8"/>
<line x1="538.00" y1="117.50" x2="538.00" y2="119.50" stroke="#000" stroke-width="0.8"/>
<line x1="542.50" y1="118.50" x2="548.00" y2="118.50" stroke="#000" stroke-width="0.8"/>
<line x1="548.00" y1="117.50" x2="548.00" y2="119.50" stroke="#000" stroke-width="0.8"/>
<line x1="542.50" y1="113.00" x2="542.50" y2="118.10" stroke="#000" stroke-width="0.8"/>
<line x1="541.50" y1="113.00" x2="543.50" y2="113.00" stroke="#000" stroke-width="0.8"/>
<line x1="542.50" y1="118.10" x2="542.50" y2="123.00" stroke="#000" stroke-width="0.8"/>
<line x1="541.50" y1="123.00" x2="543.50" y2="123.00" stroke="#000" stroke-width="0.8"/>
<circle cx="542.50" cy="118.10" r="2.2" fill="#000"/>
<line x1="541.00" y1="125.50" x2="546.60" y2="125.50" stroke="#000" stroke-width="0.8"/>
<line x1="541.00" y1="124.50" x2="541.00" y2="126.50" stroke="#000" stroke-width="0.8"/>
<line x1="546.60" y1="125.50" x2="551.00" y2="125.50" stroke="#000" stroke-width="0.8"/>
<line x1="551.00" y1="124.50" x2="551.00" y2="126.50" stroke="#000" stroke-width="0.8"/>
<line x1="546.50" y1="116.40" x2="546.50" y2="125.30" stroke="#000" stroke-width="0.8"/>
<line x1="545.50" y1="116.40" x2="547.50" y2="116.40" stroke="#000" stroke-width="0.8"/>
<line x1="546.50" y1="125.30" x2="546.50" y2="133.00" stroke="#000" stroke-width="0.8"/>
<line x1="545.50" y1="133.00" x2="547.50" y2="133.00" stroke="#000" stroke-width="0.8"/>
<circle cx="546.60" cy="125.30" r="2.2" fill="#000"/>
<line x1="529.80" y1="128.50" x2="537.50" y2="128.50" stroke="#000" stroke-width="0.8"/>
<line x1="529.80" y1="127.50" x2="529.80" y2="129.50" stroke="#000" stroke-width="0.8"/>
<line x1="537.50" y1="128.50" x2="546.00" y2="128.50" stroke="#000" stroke-width="0.8"/>
<line x1="546.00" y1="127.50" x2="546.00" y2="129.50" stroke="#000" stroke-width="0.8"/>
<line x1="537.50" y1="121.30" x2="537.50" y2="128.30" stroke="#000" stroke-width="0.8"/>
<line x1="536.50" y1="121.30" x2="538.50" y2="121.30" stroke="#000" stroke-width="0.8"/>
<line x1="537.50" y1="128.30" x2="537.50" y2="143.00" stroke="#000" stroke-width="0.8"/>
<line x1="536.50" y1="143.00" x2="538.50" y2="143.00" stroke="#000" stroke-width="0.8"/>
<circle cx="537.50" cy="128.30" r="2.2" fill="#000"/>
<circle cx="540.00" cy="126.30" r="2.2" fill="#000"/>
<line x1="528.40" y1="134.50" x2="536.30" y2="134.50" stroke="#000" stroke-width="0.8"/>
<line x1="528.40" y1="133.50" x2="528.40" y2="135.50" stroke="#000" stroke-width="0.8"/>
<line x1="536.30" y1="134.50" x2="545.00" y2="134.50" stroke="#000" stroke-width="0.8"/>
<line x1="545.00" y1="133.50" x2="545.00" y2="135.50" stroke="#000" stroke-width="0.8"/>
<circle cx="536.30" cy="134.30" r="2.2" fill="#000"/>
<circle cx="539.00" cy="136.30" r="2.2" fill="#000"/>
<line x1="545.90" y1="136.50" x2="561.30" y2="136.50" stroke="#000" stroke-width="0.8"/>
<line x1="561.30" y1="135.50" x2="561.30" y2="137.50" stroke="#000" stroke-width="0.8"/>
<line x1="545.50" y1="130.00" x2="545.50" y2="136.00" stroke="#000" stroke-width="0.8"/>
<line x1="544.50" y1="130.00" x2="546.50" y2="130.00" stroke="#000" stroke-width="0.8"/>
<line x1="545.50" y1="136.00" x2="545.50" y2="141.00" stroke="#000" stroke-width="0.8"/>
<line x1="544.50" y1="141.00" x2="546.50" y2="141.00" stroke="#000" stroke-width="0.8"/>
<circle cx="545.90" cy="136.00" r="2.2" fill="#000"/>
<line x1="521.50" y1="122.00" x2="521.50" y2="127.50" stroke="#000" stroke-width="0.8"/>
<line x1="520.50" y1="122.00" x2="522.50" y2="122.00" stroke="#000" stroke-width="0.8"/>
<line x1="521.50" y1="127.50" x2="521.50" y2="133.00" stroke="#000" stroke-width="0.8"/>
<line x1="520.50" y1="133.00" x2="522.50" y2="133.00" stroke="#000" stroke-width="0.8"/>
<circle cx="521.25" cy="127.50" r="2.2" fill="#000"/>
<line x1="474.00" y1="126.50" x2="478.00" y2="126.50" stroke="#000" stroke-width="0.8"/>
<line x1="474.00" y1="125.50" x2="474.00" y2="127.50" stroke="#000" stroke-width="0.8"/>
<line x1="478.00" y1="126.50" x2="482.00" y2="126.50" stroke="#000" stroke-width="0.8"/>
<line x1="482.00" y1="125.50" x2="482.00" y2="127.50" stroke="#000" stroke-width="0.8"/>
<line x1="478.50" y1="121.00" x2="478.50" y2="126.25" stroke="#000" stroke-width="0.8"/>
<line x1="477.50" y1="121.00" x2="479.50" y2="121.00" stroke="#000" stroke-width="0.8"/>
<line x1="478.50" y1="126.25" x2="478.50" y2="131.00" stroke="#000" stroke-width="0.8"/>
<line x1="477.50" y1="131.00" x2="479.50" y2="131.00" stroke="#000" stroke-width="0.8"/>
<circle cx="478.00" cy="126.25" r="2.2" fill="#000"/>
<line x1="467.50" y1="131.50" x2="472.70" y2="131.50" stroke="#000" stroke-width="0.8"/>
<line x1="467.50" y1="130.50" x2="467.50" y2="132.50" stroke="#000" stroke-width="0.8"/>
<line x1="472.70" y1="131.50" x2="479.00" y2="131.50" stroke="#000" stroke-width="0.8"/>
<line x1="479.00" y1="130.50" x2="479.00" y2="132.50" stroke="#000" stroke-width="0.8"/>
<line x1="472.50" y1="126.00" x2="472.50" y2="131.00" stroke="#000" stroke-width="0.8"/>
<line x1="471.50" y1="126.00" x2="473.50" y2="126.00" stroke="#000" stroke-width="0.8"/>
<line x1="472.50" y1="131.00" x2="472.50" y2="136.00" stroke="#000" stroke-width="0.8"/>
<line x1="471.50" y1="136.00" x2="473.50" y2="136.00" stroke="#000" stroke-width="0.8"/>
<circle cx="472.70" cy="131.00" r="2.2" fill="#000"/>
<line x1="474.00" y1="136.50" x2="479.50" y2="136.50" stroke="#000" stroke-width="0.8"/>
<line x1="474.00" y1="135.50" x2="474.00" y2="137.50" stroke="#000" stroke-width="0.8"/>
<line x1="479.50" y1="136.50" x2="485.00" y2="136.50" stroke="#000" stroke-width="0.8"/>
<line x1="485.00" y1="135.50" x2="485.00" y2="137.50" stroke="#000" stroke-width="0.8"/>
<line x1="479.50" y1="131.00" x2="479.50" y2="136.25" stroke="#000" stroke-width="0.8"/>
<line x1="478.50" y1="131.00" x2="480.50" y2="131.00" stroke="#000" stroke-width="0.8"/>
<line x1="479.50" y1="136.25" x2="479.50" y2="141.00" stroke="#000" stroke-width="0.8"/>
<line x1="478.50" y1="141.00" x2="480.50" y2="141.00" stroke="#000" stroke-width="0.8"/>
<circle cx="479.50" cy="136.25" r="2.2" fill="#000"/>
<line x1="493.00" y1="131.50" x2="501.25" y2="131.50" stroke="#000" stroke-width="0.8"/>
<line x1="493.00" y1="130.50" x2="493.00" y2="132.50" stroke="#000" stroke-width="0.8"/>
<line x1="501.25" y1="131.50" x2="508.00" y2="131.50" stroke="#000" stroke-width="0.8"/>
<line x1="508.00" y1="130.50" x2="508.00" y2="132.50" stroke="#000" stroke-width="0.8"/>
<line x1="501.50" y1="126.00" x2="501.50" y2="131.25" stroke="#000" stroke-width="0.8"/>
<line x1="500.50" y1="126.00" x2="502.50" y2="126.00" stroke="#000" stroke-width="0.8"/>
<line x1="501.50" y1="131.25" x2="501.50" y2="136.00" stroke="#000" stroke-width="0.8"/>
<line x1="500.50" y1="136.00" x2="502.50" y2="136.00" stroke="#000" stroke-width="0.8"/>
<circle cx="501.25" cy="131.25" r="2.2" fill="#000"/>
<line x1="503.00" y1="131.50" x2="508.00" y2="131.50" stroke="#000" stroke-width="0.8"/>
<line x1="503.00" y1="130.50" x2="503.00" y2="132.50" stroke="#000" stroke-width="0.8"/>
<line x1="508.00" y1="131.50" x2="514.00" y2="131.50" stroke="#000" stroke-width="0.8"/>
<line x1="514.00" y1="130.50" x2="514.00" y2="132.50" stroke="#000" stroke-width="0.8"/>
<line x1="508.50" y1="126.00" x2="508.50" y2="131.25" stroke="#000" stroke-width="0.8"/>
<line x1="507.50" y1="126.00" x2="509.50" y2="126.00" stroke="#000" stroke-width="0.8"/>
<line x1="508.50" y1="131.25" x2="508.50" y2="137.00" stroke="#000" stroke-width="0.8"/>
<line x1="507.50" y1="137.00" x2="509.50" y2="137.00" stroke="#000" stroke-width="0.8"/>
<circle cx="508.00" cy="131.25" r="2.2" fill="#000"/>
<circle cx="510.00" cy="130.00" r="2.2" fill="#000"/>
<line x1="520.50" y1="123.00" x2="520.50" y2="127.50" stroke="#000" stroke-width="0.8"/>
<line x1="519.50" y1="123.00" x2="521.50" y2="123.00" stroke="#000" stroke-width="0.8"/>
<line x1="520.50" y1="127.50" x2="520.50" y2="132.00" stroke="#000" stroke-width="0.8"/>
<line x1="519.50" y1="132.00" x2="521.50" y2="132.00" stroke="#000" stroke-width="0.8"/>
<circle cx="520.50" cy="127.50" r="2.2" fill="#000"/>
<line x1="455.50" y1="145.50" x2="467.50" y2="145.50" stroke="#000" stroke-width="0.8"/>
<line x1="455.50" y1="144.50" x2="455.50" y2="146.50" stroke="#000" stroke-width="0.8"/>
<line x1="467.50" y1="145.50" x2="480.50" y2="145.50" stroke="#000" stroke-width="0.8"/>
<line x1="480.50" y1="144.50" x2="480.50" y2="146.50" stroke="#000" stroke-width="0.8"/>
<line x1="467.50" y1="141.00" x2="467.50" y2="145.50" stroke="#000" stroke-width="0.8"/>
<line x1="466.50" y1="141.00" x2="468.50" y2="141.00" stroke="#000" stroke-width="0.8"/>
<line x1="467.50" y1="145.50" x2="467.50" y2="150.00" stroke="#000" stroke-width="0.8"/>
<line x1="466.50" y1="150.00" x2="468.50" y2="150.00" stroke="#000" stroke-width="0.8"/>
<circle cx="467.50" cy="145.50" r="2.2" fill="#000"/>
<line x1="465.00" y1="151.50" x2="469.10" y2="151.50" stroke="#000" stroke-width="0.8"/>
<line x1="465.00" y1="150.50" x2="465.00" y2="152.50" stroke="#000" stroke-width="0.8"/>
<line x1="469.10" y1="151.50" x2="474.00" y2="151.50" stroke="#000" stroke-width="0.8"/>
<line x1="474.00" y1="150.50" x2="474.00" y2="152.50" stroke="#000" stroke-width="0.8"/>
<line x1="469.50" y1="148.00" x2="469.50" y2="151.80" stroke="#000" stroke-width="0.8"/>
<line x1="468.50" y1="148.00" x2="470.50" y2="148.00" stroke="#000" stroke-width="0.8"/>
<line x1="469.50" y1="151.80" x2="469.50" y2="156.00" stroke="#000" stroke-width="0.8"/>
<line x1="468.50" y1="156.00" x2="470.50" y2="156.00" stroke="#000" stroke-width="0.8"/>
<circle cx="469.10" cy="151.80" r="2.2" fill="#000"/>
<line x1="456.75" y1="162.50" x2="463.75" y2="162.50" stroke="#000" stroke-width="0.8"/>
<line x1="456.75" y1="161.50" x2="456.75" y2="163.50" stroke="#000" stroke-width="0.8"/>
<line x1="463.75" y1="162.50" x2="471.75" y2="162.50" stroke="#000" stroke-width="0.8"/>
<line x1="471.75" y1="161.50" x2="471.75" y2="163.50" stroke="#000" stroke-width="0.8"/>
<line x1="463.50" y1="150.00" x2="463.50" y2="162.00" stroke="#000" stroke-width="0.8"/>
<line x1="462.50" y1="150.00" x2="464.50" y2="150.00" stroke="#000" stroke-width="0.8"/>
<line x1="463.50" y1="162.00" x2="463.50" y2="166.00" stroke="#000" stroke-width="0.8"/>
<line x1="462.50" y1="166.00" x2="464.50" y2="166.00" stroke="#000" stroke-width="0.8"/>
<circle cx="463.75" cy="162.00" r="2.2" fill="#000"/>
<line x1="463.00" y1="168.50" x2="470.00" y2="168.50" stroke="#000" stroke-width="0.8"/>
<line x1="463.00" y1="167.50" x2="463.00" y2="169.50" stroke="#000" stroke-width="0.8"/>
<line x1="470.00" y1="168.50" x2="477.50" y2="168.50" stroke="#000" stroke-width="0.8"/>
<line x1="477.50" y1="167.50" x2="477.50" y2="169.50" stroke="#000" stroke-width="0.8"/>
<line x1="470.50" y1="163.75" x2="470.50" y2="168.00" stroke="#000" stroke-width="0.8"/>
<line x1="469.50" y1="163.75" x2="471.50" y2="163.75" stroke="#000" stroke-width="0.8"/>
<line x1="470.50" y1="168.00" x2="470.50" y2="173.75" stroke="#000" stroke-width="0.8"/>
<line x1="469.50" y1="173.75" x2="471.50" y2="173.75" stroke="#000" stroke-width="0.8"/>
<circle cx="470.00" cy="168.00" r="2.2" fill="#000"/>
<line x1="463.00" y1="194.50" x2="470.00" y2="194.50" stroke="#000" stroke-width="0.8"/>
<line x1="463.00" y1="193.50" x2="463.00" y2="195.50" stroke="#000" stroke-width="0.8"/>
<line x1="470.00" y1="194.50" x2="477.70" y2="194.50" stroke="#000" stroke-width="0.8"/>
<line x1="477.70" y1="193.50" x2="477.70" y2="195.50" stroke="#000" stroke-width="0.8"/>
<line x1="470.50" y1="188.75" x2="470.50" y2="194.30" stroke="#000" stroke-width="0.8"/>
<line x1="469.50" y1="188.75" x2="471.50" y2="188.75" stroke="#000" stroke-width="0.8"/>
<line x1="470.50" y1="194.30" x2="470.50" y2="200.70" stroke="#000" stroke-width="0.8"/>
<line x1="469.50" y1="200.70" x2="471.50" y2="200.70" stroke="#000" stroke-width="0.8"/>
<circle cx="470.00" cy="194.30" r="2.2" fill="#000"/>
<line x1="462.40" y1="205.50" x2="466.30" y2="205.50" stroke="#000" stroke-width="0.8"/>
<line x1="462.40" y1="204.50" x2="462.40" y2="206.50" stroke="#000" stroke-width="0.8"/>
<line x1="466.30" y1="205.50" x2="469.80" y2="205.50" stroke="#000" stroke-width="0.8"/>
<line x1="469.80" y1="204.50" x2="469.80" y2="206.50" stroke="#000" stroke-width="0.8"/>
<line x1="466.50" y1="194.30" x2="466.50" y2="205.90" stroke="#000" stroke-width="0.8"/>
<line x1="465.50" y1="194.30" x2="467.50" y2="194.30" stroke="#000" stroke-width="0.8"/>
<line x1="466.50" y1="205.90" x2="466.50" y2="218.70" stroke="#000" stroke-width="0.8"/>
<line x1="465.50" y1="218.70" x2="467.50" y2="218.70" stroke="#000" stroke-width="0.8"/>
<circle cx="466.30" cy="205.90" r="2.2" fill="#000"/>
<text x="528.00" y="68.90" class="sm">M8</text>
<text x="542.50" y="103.00" class="sm">L3</text>
<text x="553.70" y="132.65" class="sm">L8</text>
<text x="470.50" y="117.15" class="sm">T4.5</text>
<text x="474.60" y="164.15" class="sm">T7.5</text>
<text x="476.75" y="208.80" class="sm">T9</text>
<text x="199" y="199.5" class="lg" style="fill:#228b22" text-anchor="end">subdwarf</text>
<text x="199" y="209.9" class="lg" style="fill:#ffb6c1" text-anchor="end">low-Z?</text>
<text x="199" y="220.2" class="lg" style="fill:#0000ff" text-anchor="end">young</text>
<polygon points="201.9,199.5 210.2,199.5 206.05,192.3" fill="#228b22"/>
<polygon points="201.7,204.8 210.2,204.8 205.95,211.2" fill="#ffb6c1"/>
<rect x="202.8" y="214.5" width="6.9" height="6.9" fill="#0000ff"/>
</svg></body></html>
